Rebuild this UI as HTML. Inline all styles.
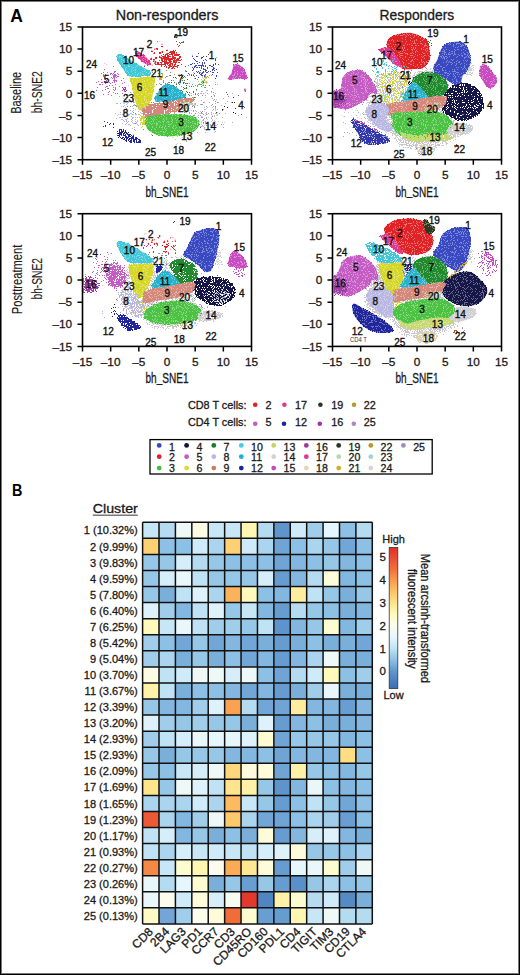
<!DOCTYPE html><html><head><meta charset="utf-8"><title>Figure</title>
<style>html,body{margin:0;padding:0;background:#fff;overflow:hidden}svg{display:block}text{font-family:"Liberation Sans",sans-serif}text.k{stroke:#1a1a1a;stroke-width:0.3px}text.k2{stroke:#1a1a1a;stroke-width:0.12px}</style></head><body>
<svg width="520" height="975" viewBox="0 0 520 975">
<rect x="0" y="0" width="520" height="975" fill="#fff"/>
<text x="10.2" y="21.5" font-size="17.5" font-weight="bold" fill="#000">A</text>
<text class="k" x="115.8" y="19.8" font-size="14" textLength="102.7" lengthAdjust="spacingAndGlyphs" fill="#1a1a1a">Non-responders</text>
<text class="k" x="379.6" y="19.9" font-size="14" textLength="74.6" lengthAdjust="spacingAndGlyphs" fill="#1a1a1a">Responders</text>
<defs><filter id="soft" x="0" y="0" width="100%" height="100%"><feGaussianBlur stdDeviation="0.45"/></filter><filter id="f0_1" x="-50%" y="-50%" width="200%" height="200%" color-interpolation-filters="sRGB"><feGaussianBlur in="SourceGraphic" stdDeviation="0.6" result="b"/><feTurbulence type="fractalNoise" baseFrequency="0.9" numOctaves="2" seed="1" result="t"/><feComponentTransfer in="t" result="u"><feFuncA type="table" tableValues="0.0 0.0 0.0001 0.0002 0.0004 0.0009 0.0018 0.0034 0.0062 0.011 0.0186 0.0304 0.0478 0.0724 0.1056 0.1488 0.2023 0.266 0.3385 0.4175 0.5 0.5825 0.6615 0.734 0.7977 0.8512 0.8944 0.9276 0.9522 0.9696 0.9814 0.989 0.9938 0.9966 0.9982 0.9991 0.9996 0.9998 0.9999 1.0 1.0"/></feComponentTransfer><feComposite in="b" in2="u" operator="arithmetic" k1="0" k2="1" k3="-1" k4="0" result="d"/><feComponentTransfer in="d" result="m"><feFuncA type="linear" slope="60" intercept="0"/></feComponentTransfer><feComposite in="b" in2="m" operator="in" result="o"/><feColorMatrix in="o" type="matrix" values="1 0 0 0 0  0 1 0 0 0  0 0 1 0 0  0 0 0 80 0"/></filter><filter id="f0_2" x="-50%" y="-50%" width="200%" height="200%" color-interpolation-filters="sRGB"><feGaussianBlur in="SourceGraphic" stdDeviation="0.6" result="b"/><feTurbulence type="fractalNoise" baseFrequency="0.9" numOctaves="2" seed="2" result="t"/><feComponentTransfer in="t" result="u"><feFuncA type="table" tableValues="0.0 0.0 0.0001 0.0002 0.0004 0.0009 0.0018 0.0034 0.0062 0.011 0.0186 0.0304 0.0478 0.0724 0.1056 0.1488 0.2023 0.266 0.3385 0.4175 0.5 0.5825 0.6615 0.734 0.7977 0.8512 0.8944 0.9276 0.9522 0.9696 0.9814 0.989 0.9938 0.9966 0.9982 0.9991 0.9996 0.9998 0.9999 1.0 1.0"/></feComponentTransfer><feComposite in="b" in2="u" operator="arithmetic" k1="0" k2="1" k3="-1" k4="0" result="d"/><feComponentTransfer in="d" result="m"><feFuncA type="linear" slope="60" intercept="0"/></feComponentTransfer><feComposite in="b" in2="m" operator="in" result="o"/><feColorMatrix in="o" type="matrix" values="1 0 0 0 0  0 1 0 0 0  0 0 1 0 0  0 0 0 80 0"/></filter><filter id="f0_3" x="-50%" y="-50%" width="200%" height="200%" color-interpolation-filters="sRGB"><feGaussianBlur in="SourceGraphic" stdDeviation="0.6" result="b"/><feTurbulence type="fractalNoise" baseFrequency="0.9" numOctaves="2" seed="3" result="t"/><feComponentTransfer in="t" result="u"><feFuncA type="table" tableValues="0.0 0.0 0.0001 0.0002 0.0004 0.0009 0.0018 0.0034 0.0062 0.011 0.0186 0.0304 0.0478 0.0724 0.1056 0.1488 0.2023 0.266 0.3385 0.4175 0.5 0.5825 0.6615 0.734 0.7977 0.8512 0.8944 0.9276 0.9522 0.9696 0.9814 0.989 0.9938 0.9966 0.9982 0.9991 0.9996 0.9998 0.9999 1.0 1.0"/></feComponentTransfer><feComposite in="b" in2="u" operator="arithmetic" k1="0" k2="1" k3="-1" k4="0" result="d"/><feComponentTransfer in="d" result="m"><feFuncA type="linear" slope="60" intercept="0"/></feComponentTransfer><feComposite in="b" in2="m" operator="in" result="o"/><feColorMatrix in="o" type="matrix" values="1 0 0 0 0  0 1 0 0 0  0 0 1 0 0  0 0 0 80 0"/></filter><filter id="f0_4" x="-50%" y="-50%" width="200%" height="200%" color-interpolation-filters="sRGB"><feGaussianBlur in="SourceGraphic" stdDeviation="0.6" result="b"/><feTurbulence type="fractalNoise" baseFrequency="0.9" numOctaves="2" seed="4" result="t"/><feComponentTransfer in="t" result="u"><feFuncA type="table" tableValues="0.0 0.0 0.0001 0.0002 0.0004 0.0009 0.0018 0.0034 0.0062 0.011 0.0186 0.0304 0.0478 0.0724 0.1056 0.1488 0.2023 0.266 0.3385 0.4175 0.5 0.5825 0.6615 0.734 0.7977 0.8512 0.8944 0.9276 0.9522 0.9696 0.9814 0.989 0.9938 0.9966 0.9982 0.9991 0.9996 0.9998 0.9999 1.0 1.0"/></feComponentTransfer><feComposite in="b" in2="u" operator="arithmetic" k1="0" k2="1" k3="-1" k4="0" result="d"/><feComponentTransfer in="d" result="m"><feFuncA type="linear" slope="60" intercept="0"/></feComponentTransfer><feComposite in="b" in2="m" operator="in" result="o"/><feColorMatrix in="o" type="matrix" values="1 0 0 0 0  0 1 0 0 0  0 0 1 0 0  0 0 0 80 0"/></filter><filter id="f0_5" x="-50%" y="-50%" width="200%" height="200%" color-interpolation-filters="sRGB"><feGaussianBlur in="SourceGraphic" stdDeviation="0.6" result="b"/><feTurbulence type="fractalNoise" baseFrequency="0.9" numOctaves="2" seed="5" result="t"/><feComponentTransfer in="t" result="u"><feFuncA type="table" tableValues="0.0 0.0 0.0001 0.0002 0.0004 0.0009 0.0018 0.0034 0.0062 0.011 0.0186 0.0304 0.0478 0.0724 0.1056 0.1488 0.2023 0.266 0.3385 0.4175 0.5 0.5825 0.6615 0.734 0.7977 0.8512 0.8944 0.9276 0.9522 0.9696 0.9814 0.989 0.9938 0.9966 0.9982 0.9991 0.9996 0.9998 0.9999 1.0 1.0"/></feComponentTransfer><feComposite in="b" in2="u" operator="arithmetic" k1="0" k2="1" k3="-1" k4="0" result="d"/><feComponentTransfer in="d" result="m"><feFuncA type="linear" slope="60" intercept="0"/></feComponentTransfer><feComposite in="b" in2="m" operator="in" result="o"/><feColorMatrix in="o" type="matrix" values="1 0 0 0 0  0 1 0 0 0  0 0 1 0 0  0 0 0 80 0"/></filter><filter id="f0_6" x="-50%" y="-50%" width="200%" height="200%" color-interpolation-filters="sRGB"><feGaussianBlur in="SourceGraphic" stdDeviation="0.6" result="b"/><feTurbulence type="fractalNoise" baseFrequency="0.9" numOctaves="2" seed="6" result="t"/><feComponentTransfer in="t" result="u"><feFuncA type="table" tableValues="0.0 0.0 0.0001 0.0002 0.0004 0.0009 0.0018 0.0034 0.0062 0.011 0.0186 0.0304 0.0478 0.0724 0.1056 0.1488 0.2023 0.266 0.3385 0.4175 0.5 0.5825 0.6615 0.734 0.7977 0.8512 0.8944 0.9276 0.9522 0.9696 0.9814 0.989 0.9938 0.9966 0.9982 0.9991 0.9996 0.9998 0.9999 1.0 1.0"/></feComponentTransfer><feComposite in="b" in2="u" operator="arithmetic" k1="0" k2="1" k3="-1" k4="0" result="d"/><feComponentTransfer in="d" result="m"><feFuncA type="linear" slope="60" intercept="0"/></feComponentTransfer><feComposite in="b" in2="m" operator="in" result="o"/><feColorMatrix in="o" type="matrix" values="1 0 0 0 0  0 1 0 0 0  0 0 1 0 0  0 0 0 80 0"/></filter><filter id="f1_1" x="-50%" y="-50%" width="200%" height="200%" color-interpolation-filters="sRGB"><feGaussianBlur in="SourceGraphic" stdDeviation="1.5" result="b"/><feTurbulence type="fractalNoise" baseFrequency="0.9" numOctaves="2" seed="1" result="t"/><feComponentTransfer in="t" result="u"><feFuncA type="table" tableValues="0.0 0.0 0.0001 0.0002 0.0004 0.0009 0.0018 0.0034 0.0062 0.011 0.0186 0.0304 0.0478 0.0724 0.1056 0.1488 0.2023 0.266 0.3385 0.4175 0.5 0.5825 0.6615 0.734 0.7977 0.8512 0.8944 0.9276 0.9522 0.9696 0.9814 0.989 0.9938 0.9966 0.9982 0.9991 0.9996 0.9998 0.9999 1.0 1.0"/></feComponentTransfer><feComposite in="b" in2="u" operator="arithmetic" k1="0" k2="1" k3="-1" k4="0" result="d"/><feComponentTransfer in="d" result="m"><feFuncA type="linear" slope="60" intercept="0"/></feComponentTransfer><feComposite in="b" in2="m" operator="in" result="o"/><feColorMatrix in="o" type="matrix" values="1 0 0 0 0  0 1 0 0 0  0 0 1 0 0  0 0 0 80 0"/></filter><filter id="f1_2" x="-50%" y="-50%" width="200%" height="200%" color-interpolation-filters="sRGB"><feGaussianBlur in="SourceGraphic" stdDeviation="1.5" result="b"/><feTurbulence type="fractalNoise" baseFrequency="0.9" numOctaves="2" seed="2" result="t"/><feComponentTransfer in="t" result="u"><feFuncA type="table" tableValues="0.0 0.0 0.0001 0.0002 0.0004 0.0009 0.0018 0.0034 0.0062 0.011 0.0186 0.0304 0.0478 0.0724 0.1056 0.1488 0.2023 0.266 0.3385 0.4175 0.5 0.5825 0.6615 0.734 0.7977 0.8512 0.8944 0.9276 0.9522 0.9696 0.9814 0.989 0.9938 0.9966 0.9982 0.9991 0.9996 0.9998 0.9999 1.0 1.0"/></feComponentTransfer><feComposite in="b" in2="u" operator="arithmetic" k1="0" k2="1" k3="-1" k4="0" result="d"/><feComponentTransfer in="d" result="m"><feFuncA type="linear" slope="60" intercept="0"/></feComponentTransfer><feComposite in="b" in2="m" operator="in" result="o"/><feColorMatrix in="o" type="matrix" values="1 0 0 0 0  0 1 0 0 0  0 0 1 0 0  0 0 0 80 0"/></filter><filter id="f1_3" x="-50%" y="-50%" width="200%" height="200%" color-interpolation-filters="sRGB"><feGaussianBlur in="SourceGraphic" stdDeviation="1.5" result="b"/><feTurbulence type="fractalNoise" baseFrequency="0.9" numOctaves="2" seed="3" result="t"/><feComponentTransfer in="t" result="u"><feFuncA type="table" tableValues="0.0 0.0 0.0001 0.0002 0.0004 0.0009 0.0018 0.0034 0.0062 0.011 0.0186 0.0304 0.0478 0.0724 0.1056 0.1488 0.2023 0.266 0.3385 0.4175 0.5 0.5825 0.6615 0.734 0.7977 0.8512 0.8944 0.9276 0.9522 0.9696 0.9814 0.989 0.9938 0.9966 0.9982 0.9991 0.9996 0.9998 0.9999 1.0 1.0"/></feComponentTransfer><feComposite in="b" in2="u" operator="arithmetic" k1="0" k2="1" k3="-1" k4="0" result="d"/><feComponentTransfer in="d" result="m"><feFuncA type="linear" slope="60" intercept="0"/></feComponentTransfer><feComposite in="b" in2="m" operator="in" result="o"/><feColorMatrix in="o" type="matrix" values="1 0 0 0 0  0 1 0 0 0  0 0 1 0 0  0 0 0 80 0"/></filter><filter id="f1_4" x="-50%" y="-50%" width="200%" height="200%" color-interpolation-filters="sRGB"><feGaussianBlur in="SourceGraphic" stdDeviation="1.5" result="b"/><feTurbulence type="fractalNoise" baseFrequency="0.9" numOctaves="2" seed="4" result="t"/><feComponentTransfer in="t" result="u"><feFuncA type="table" tableValues="0.0 0.0 0.0001 0.0002 0.0004 0.0009 0.0018 0.0034 0.0062 0.011 0.0186 0.0304 0.0478 0.0724 0.1056 0.1488 0.2023 0.266 0.3385 0.4175 0.5 0.5825 0.6615 0.734 0.7977 0.8512 0.8944 0.9276 0.9522 0.9696 0.9814 0.989 0.9938 0.9966 0.9982 0.9991 0.9996 0.9998 0.9999 1.0 1.0"/></feComponentTransfer><feComposite in="b" in2="u" operator="arithmetic" k1="0" k2="1" k3="-1" k4="0" result="d"/><feComponentTransfer in="d" result="m"><feFuncA type="linear" slope="60" intercept="0"/></feComponentTransfer><feComposite in="b" in2="m" operator="in" result="o"/><feColorMatrix in="o" type="matrix" values="1 0 0 0 0  0 1 0 0 0  0 0 1 0 0  0 0 0 80 0"/></filter><filter id="f1_5" x="-50%" y="-50%" width="200%" height="200%" color-interpolation-filters="sRGB"><feGaussianBlur in="SourceGraphic" stdDeviation="1.5" result="b"/><feTurbulence type="fractalNoise" baseFrequency="0.9" numOctaves="2" seed="5" result="t"/><feComponentTransfer in="t" result="u"><feFuncA type="table" tableValues="0.0 0.0 0.0001 0.0002 0.0004 0.0009 0.0018 0.0034 0.0062 0.011 0.0186 0.0304 0.0478 0.0724 0.1056 0.1488 0.2023 0.266 0.3385 0.4175 0.5 0.5825 0.6615 0.734 0.7977 0.8512 0.8944 0.9276 0.9522 0.9696 0.9814 0.989 0.9938 0.9966 0.9982 0.9991 0.9996 0.9998 0.9999 1.0 1.0"/></feComponentTransfer><feComposite in="b" in2="u" operator="arithmetic" k1="0" k2="1" k3="-1" k4="0" result="d"/><feComponentTransfer in="d" result="m"><feFuncA type="linear" slope="60" intercept="0"/></feComponentTransfer><feComposite in="b" in2="m" operator="in" result="o"/><feColorMatrix in="o" type="matrix" values="1 0 0 0 0  0 1 0 0 0  0 0 1 0 0  0 0 0 80 0"/></filter><filter id="f1_6" x="-50%" y="-50%" width="200%" height="200%" color-interpolation-filters="sRGB"><feGaussianBlur in="SourceGraphic" stdDeviation="1.5" result="b"/><feTurbulence type="fractalNoise" baseFrequency="0.9" numOctaves="2" seed="6" result="t"/><feComponentTransfer in="t" result="u"><feFuncA type="table" tableValues="0.0 0.0 0.0001 0.0002 0.0004 0.0009 0.0018 0.0034 0.0062 0.011 0.0186 0.0304 0.0478 0.0724 0.1056 0.1488 0.2023 0.266 0.3385 0.4175 0.5 0.5825 0.6615 0.734 0.7977 0.8512 0.8944 0.9276 0.9522 0.9696 0.9814 0.989 0.9938 0.9966 0.9982 0.9991 0.9996 0.9998 0.9999 1.0 1.0"/></feComponentTransfer><feComposite in="b" in2="u" operator="arithmetic" k1="0" k2="1" k3="-1" k4="0" result="d"/><feComponentTransfer in="d" result="m"><feFuncA type="linear" slope="60" intercept="0"/></feComponentTransfer><feComposite in="b" in2="m" operator="in" result="o"/><feColorMatrix in="o" type="matrix" values="1 0 0 0 0  0 1 0 0 0  0 0 1 0 0  0 0 0 80 0"/></filter><filter id="f2_1" x="-50%" y="-50%" width="200%" height="200%" color-interpolation-filters="sRGB"><feGaussianBlur in="SourceGraphic" stdDeviation="3" result="b"/><feTurbulence type="fractalNoise" baseFrequency="0.9" numOctaves="2" seed="1" result="t"/><feComponentTransfer in="t" result="u"><feFuncA type="table" tableValues="0.0 0.0 0.0001 0.0002 0.0004 0.0009 0.0018 0.0034 0.0062 0.011 0.0186 0.0304 0.0478 0.0724 0.1056 0.1488 0.2023 0.266 0.3385 0.4175 0.5 0.5825 0.6615 0.734 0.7977 0.8512 0.8944 0.9276 0.9522 0.9696 0.9814 0.989 0.9938 0.9966 0.9982 0.9991 0.9996 0.9998 0.9999 1.0 1.0"/></feComponentTransfer><feComposite in="b" in2="u" operator="arithmetic" k1="0" k2="1" k3="-1" k4="0" result="d"/><feComponentTransfer in="d" result="m"><feFuncA type="linear" slope="60" intercept="0"/></feComponentTransfer><feComposite in="b" in2="m" operator="in" result="o"/><feColorMatrix in="o" type="matrix" values="1 0 0 0 0  0 1 0 0 0  0 0 1 0 0  0 0 0 80 0"/></filter><filter id="f2_2" x="-50%" y="-50%" width="200%" height="200%" color-interpolation-filters="sRGB"><feGaussianBlur in="SourceGraphic" stdDeviation="3" result="b"/><feTurbulence type="fractalNoise" baseFrequency="0.9" numOctaves="2" seed="2" result="t"/><feComponentTransfer in="t" result="u"><feFuncA type="table" tableValues="0.0 0.0 0.0001 0.0002 0.0004 0.0009 0.0018 0.0034 0.0062 0.011 0.0186 0.0304 0.0478 0.0724 0.1056 0.1488 0.2023 0.266 0.3385 0.4175 0.5 0.5825 0.6615 0.734 0.7977 0.8512 0.8944 0.9276 0.9522 0.9696 0.9814 0.989 0.9938 0.9966 0.9982 0.9991 0.9996 0.9998 0.9999 1.0 1.0"/></feComponentTransfer><feComposite in="b" in2="u" operator="arithmetic" k1="0" k2="1" k3="-1" k4="0" result="d"/><feComponentTransfer in="d" result="m"><feFuncA type="linear" slope="60" intercept="0"/></feComponentTransfer><feComposite in="b" in2="m" operator="in" result="o"/><feColorMatrix in="o" type="matrix" values="1 0 0 0 0  0 1 0 0 0  0 0 1 0 0  0 0 0 80 0"/></filter><filter id="f2_3" x="-50%" y="-50%" width="200%" height="200%" color-interpolation-filters="sRGB"><feGaussianBlur in="SourceGraphic" stdDeviation="3" result="b"/><feTurbulence type="fractalNoise" baseFrequency="0.9" numOctaves="2" seed="3" result="t"/><feComponentTransfer in="t" result="u"><feFuncA type="table" tableValues="0.0 0.0 0.0001 0.0002 0.0004 0.0009 0.0018 0.0034 0.0062 0.011 0.0186 0.0304 0.0478 0.0724 0.1056 0.1488 0.2023 0.266 0.3385 0.4175 0.5 0.5825 0.6615 0.734 0.7977 0.8512 0.8944 0.9276 0.9522 0.9696 0.9814 0.989 0.9938 0.9966 0.9982 0.9991 0.9996 0.9998 0.9999 1.0 1.0"/></feComponentTransfer><feComposite in="b" in2="u" operator="arithmetic" k1="0" k2="1" k3="-1" k4="0" result="d"/><feComponentTransfer in="d" result="m"><feFuncA type="linear" slope="60" intercept="0"/></feComponentTransfer><feComposite in="b" in2="m" operator="in" result="o"/><feColorMatrix in="o" type="matrix" values="1 0 0 0 0  0 1 0 0 0  0 0 1 0 0  0 0 0 80 0"/></filter><filter id="f2_4" x="-50%" y="-50%" width="200%" height="200%" color-interpolation-filters="sRGB"><feGaussianBlur in="SourceGraphic" stdDeviation="3" result="b"/><feTurbulence type="fractalNoise" baseFrequency="0.9" numOctaves="2" seed="4" result="t"/><feComponentTransfer in="t" result="u"><feFuncA type="table" tableValues="0.0 0.0 0.0001 0.0002 0.0004 0.0009 0.0018 0.0034 0.0062 0.011 0.0186 0.0304 0.0478 0.0724 0.1056 0.1488 0.2023 0.266 0.3385 0.4175 0.5 0.5825 0.6615 0.734 0.7977 0.8512 0.8944 0.9276 0.9522 0.9696 0.9814 0.989 0.9938 0.9966 0.9982 0.9991 0.9996 0.9998 0.9999 1.0 1.0"/></feComponentTransfer><feComposite in="b" in2="u" operator="arithmetic" k1="0" k2="1" k3="-1" k4="0" result="d"/><feComponentTransfer in="d" result="m"><feFuncA type="linear" slope="60" intercept="0"/></feComponentTransfer><feComposite in="b" in2="m" operator="in" result="o"/><feColorMatrix in="o" type="matrix" values="1 0 0 0 0  0 1 0 0 0  0 0 1 0 0  0 0 0 80 0"/></filter><filter id="f2_5" x="-50%" y="-50%" width="200%" height="200%" color-interpolation-filters="sRGB"><feGaussianBlur in="SourceGraphic" stdDeviation="3" result="b"/><feTurbulence type="fractalNoise" baseFrequency="0.9" numOctaves="2" seed="5" result="t"/><feComponentTransfer in="t" result="u"><feFuncA type="table" tableValues="0.0 0.0 0.0001 0.0002 0.0004 0.0009 0.0018 0.0034 0.0062 0.011 0.0186 0.0304 0.0478 0.0724 0.1056 0.1488 0.2023 0.266 0.3385 0.4175 0.5 0.5825 0.6615 0.734 0.7977 0.8512 0.8944 0.9276 0.9522 0.9696 0.9814 0.989 0.9938 0.9966 0.9982 0.9991 0.9996 0.9998 0.9999 1.0 1.0"/></feComponentTransfer><feComposite in="b" in2="u" operator="arithmetic" k1="0" k2="1" k3="-1" k4="0" result="d"/><feComponentTransfer in="d" result="m"><feFuncA type="linear" slope="60" intercept="0"/></feComponentTransfer><feComposite in="b" in2="m" operator="in" result="o"/><feColorMatrix in="o" type="matrix" values="1 0 0 0 0  0 1 0 0 0  0 0 1 0 0  0 0 0 80 0"/></filter><filter id="f2_6" x="-50%" y="-50%" width="200%" height="200%" color-interpolation-filters="sRGB"><feGaussianBlur in="SourceGraphic" stdDeviation="3" result="b"/><feTurbulence type="fractalNoise" baseFrequency="0.9" numOctaves="2" seed="6" result="t"/><feComponentTransfer in="t" result="u"><feFuncA type="table" tableValues="0.0 0.0 0.0001 0.0002 0.0004 0.0009 0.0018 0.0034 0.0062 0.011 0.0186 0.0304 0.0478 0.0724 0.1056 0.1488 0.2023 0.266 0.3385 0.4175 0.5 0.5825 0.6615 0.734 0.7977 0.8512 0.8944 0.9276 0.9522 0.9696 0.9814 0.989 0.9938 0.9966 0.9982 0.9991 0.9996 0.9998 0.9999 1.0 1.0"/></feComponentTransfer><feComposite in="b" in2="u" operator="arithmetic" k1="0" k2="1" k3="-1" k4="0" result="d"/><feComponentTransfer in="d" result="m"><feFuncA type="linear" slope="60" intercept="0"/></feComponentTransfer><feComposite in="b" in2="m" operator="in" result="o"/><feColorMatrix in="o" type="matrix" values="1 0 0 0 0  0 1 0 0 0  0 0 1 0 0  0 0 0 80 0"/></filter><filter id="f3_1" x="-50%" y="-50%" width="200%" height="200%" color-interpolation-filters="sRGB"><feGaussianBlur in="SourceGraphic" stdDeviation="6" result="b"/><feTurbulence type="fractalNoise" baseFrequency="0.9" numOctaves="2" seed="1" result="t"/><feComponentTransfer in="t" result="u"><feFuncA type="table" tableValues="0.0 0.0 0.0001 0.0002 0.0004 0.0009 0.0018 0.0034 0.0062 0.011 0.0186 0.0304 0.0478 0.0724 0.1056 0.1488 0.2023 0.266 0.3385 0.4175 0.5 0.5825 0.6615 0.734 0.7977 0.8512 0.8944 0.9276 0.9522 0.9696 0.9814 0.989 0.9938 0.9966 0.9982 0.9991 0.9996 0.9998 0.9999 1.0 1.0"/></feComponentTransfer><feComposite in="b" in2="u" operator="arithmetic" k1="0" k2="1" k3="-1" k4="0" result="d"/><feComponentTransfer in="d" result="m"><feFuncA type="linear" slope="60" intercept="0"/></feComponentTransfer><feComposite in="b" in2="m" operator="in" result="o"/><feColorMatrix in="o" type="matrix" values="1 0 0 0 0  0 1 0 0 0  0 0 1 0 0  0 0 0 80 0"/></filter><filter id="f3_2" x="-50%" y="-50%" width="200%" height="200%" color-interpolation-filters="sRGB"><feGaussianBlur in="SourceGraphic" stdDeviation="6" result="b"/><feTurbulence type="fractalNoise" baseFrequency="0.9" numOctaves="2" seed="2" result="t"/><feComponentTransfer in="t" result="u"><feFuncA type="table" tableValues="0.0 0.0 0.0001 0.0002 0.0004 0.0009 0.0018 0.0034 0.0062 0.011 0.0186 0.0304 0.0478 0.0724 0.1056 0.1488 0.2023 0.266 0.3385 0.4175 0.5 0.5825 0.6615 0.734 0.7977 0.8512 0.8944 0.9276 0.9522 0.9696 0.9814 0.989 0.9938 0.9966 0.9982 0.9991 0.9996 0.9998 0.9999 1.0 1.0"/></feComponentTransfer><feComposite in="b" in2="u" operator="arithmetic" k1="0" k2="1" k3="-1" k4="0" result="d"/><feComponentTransfer in="d" result="m"><feFuncA type="linear" slope="60" intercept="0"/></feComponentTransfer><feComposite in="b" in2="m" operator="in" result="o"/><feColorMatrix in="o" type="matrix" values="1 0 0 0 0  0 1 0 0 0  0 0 1 0 0  0 0 0 80 0"/></filter><filter id="f3_3" x="-50%" y="-50%" width="200%" height="200%" color-interpolation-filters="sRGB"><feGaussianBlur in="SourceGraphic" stdDeviation="6" result="b"/><feTurbulence type="fractalNoise" baseFrequency="0.9" numOctaves="2" seed="3" result="t"/><feComponentTransfer in="t" result="u"><feFuncA type="table" tableValues="0.0 0.0 0.0001 0.0002 0.0004 0.0009 0.0018 0.0034 0.0062 0.011 0.0186 0.0304 0.0478 0.0724 0.1056 0.1488 0.2023 0.266 0.3385 0.4175 0.5 0.5825 0.6615 0.734 0.7977 0.8512 0.8944 0.9276 0.9522 0.9696 0.9814 0.989 0.9938 0.9966 0.9982 0.9991 0.9996 0.9998 0.9999 1.0 1.0"/></feComponentTransfer><feComposite in="b" in2="u" operator="arithmetic" k1="0" k2="1" k3="-1" k4="0" result="d"/><feComponentTransfer in="d" result="m"><feFuncA type="linear" slope="60" intercept="0"/></feComponentTransfer><feComposite in="b" in2="m" operator="in" result="o"/><feColorMatrix in="o" type="matrix" values="1 0 0 0 0  0 1 0 0 0  0 0 1 0 0  0 0 0 80 0"/></filter><filter id="f3_4" x="-50%" y="-50%" width="200%" height="200%" color-interpolation-filters="sRGB"><feGaussianBlur in="SourceGraphic" stdDeviation="6" result="b"/><feTurbulence type="fractalNoise" baseFrequency="0.9" numOctaves="2" seed="4" result="t"/><feComponentTransfer in="t" result="u"><feFuncA type="table" tableValues="0.0 0.0 0.0001 0.0002 0.0004 0.0009 0.0018 0.0034 0.0062 0.011 0.0186 0.0304 0.0478 0.0724 0.1056 0.1488 0.2023 0.266 0.3385 0.4175 0.5 0.5825 0.6615 0.734 0.7977 0.8512 0.8944 0.9276 0.9522 0.9696 0.9814 0.989 0.9938 0.9966 0.9982 0.9991 0.9996 0.9998 0.9999 1.0 1.0"/></feComponentTransfer><feComposite in="b" in2="u" operator="arithmetic" k1="0" k2="1" k3="-1" k4="0" result="d"/><feComponentTransfer in="d" result="m"><feFuncA type="linear" slope="60" intercept="0"/></feComponentTransfer><feComposite in="b" in2="m" operator="in" result="o"/><feColorMatrix in="o" type="matrix" values="1 0 0 0 0  0 1 0 0 0  0 0 1 0 0  0 0 0 80 0"/></filter><filter id="f3_5" x="-50%" y="-50%" width="200%" height="200%" color-interpolation-filters="sRGB"><feGaussianBlur in="SourceGraphic" stdDeviation="6" result="b"/><feTurbulence type="fractalNoise" baseFrequency="0.9" numOctaves="2" seed="5" result="t"/><feComponentTransfer in="t" result="u"><feFuncA type="table" tableValues="0.0 0.0 0.0001 0.0002 0.0004 0.0009 0.0018 0.0034 0.0062 0.011 0.0186 0.0304 0.0478 0.0724 0.1056 0.1488 0.2023 0.266 0.3385 0.4175 0.5 0.5825 0.6615 0.734 0.7977 0.8512 0.8944 0.9276 0.9522 0.9696 0.9814 0.989 0.9938 0.9966 0.9982 0.9991 0.9996 0.9998 0.9999 1.0 1.0"/></feComponentTransfer><feComposite in="b" in2="u" operator="arithmetic" k1="0" k2="1" k3="-1" k4="0" result="d"/><feComponentTransfer in="d" result="m"><feFuncA type="linear" slope="60" intercept="0"/></feComponentTransfer><feComposite in="b" in2="m" operator="in" result="o"/><feColorMatrix in="o" type="matrix" values="1 0 0 0 0  0 1 0 0 0  0 0 1 0 0  0 0 0 80 0"/></filter><filter id="f3_6" x="-50%" y="-50%" width="200%" height="200%" color-interpolation-filters="sRGB"><feGaussianBlur in="SourceGraphic" stdDeviation="6" result="b"/><feTurbulence type="fractalNoise" baseFrequency="0.9" numOctaves="2" seed="6" result="t"/><feComponentTransfer in="t" result="u"><feFuncA type="table" tableValues="0.0 0.0 0.0001 0.0002 0.0004 0.0009 0.0018 0.0034 0.0062 0.011 0.0186 0.0304 0.0478 0.0724 0.1056 0.1488 0.2023 0.266 0.3385 0.4175 0.5 0.5825 0.6615 0.734 0.7977 0.8512 0.8944 0.9276 0.9522 0.9696 0.9814 0.989 0.9938 0.9966 0.9982 0.9991 0.9996 0.9998 0.9999 1.0 1.0"/></feComponentTransfer><feComposite in="b" in2="u" operator="arithmetic" k1="0" k2="1" k3="-1" k4="0" result="d"/><feComponentTransfer in="d" result="m"><feFuncA type="linear" slope="60" intercept="0"/></feComponentTransfer><feComposite in="b" in2="m" operator="in" result="o"/><feColorMatrix in="o" type="matrix" values="1 0 0 0 0  0 1 0 0 0  0 0 1 0 0  0 0 0 80 0"/></filter></defs>
<defs><clipPath id="cp0"><rect x="83.3" y="27.8" width="167.4" height="131.1"/></clipPath><clipPath id="cp1"><rect x="333.3" y="27.8" width="167.4" height="131.1"/></clipPath><clipPath id="cp2"><rect x="83.3" y="214.5" width="167.4" height="131.1"/></clipPath><clipPath id="cp3"><rect x="333.3" y="214.5" width="167.4" height="131.1"/></clipPath></defs>
<g clip-path="url(#cp0)"><g filter="url(#soft)"><ellipse cx="170.5" cy="99.0" rx="48" ry="36" fill="#8a8a9a" fill-opacity="0.05" filter="url(#f3_2)"/><ellipse cx="204.5" cy="109.0" rx="26" ry="20" fill="#b0b0c8" fill-opacity="0.07" filter="url(#f3_3)"/><ellipse cx="230.5" cy="109.0" rx="14" ry="18" fill="#151548" fill-opacity="0.03" filter="url(#f3_4)"/><ellipse cx="160.5" cy="57.0" rx="15" ry="9" fill="#e02426" fill-opacity="0.12" transform="rotate(20 160.5 57.0)" filter="url(#f3_5)"/><path d="M162.5,55.0C164.8,53.2 169.7,51.3 172.5,51.0C175.3,50.7 178.2,51.3 179.5,53.0C180.8,54.7 181.2,58.7 180.5,61.0C179.8,63.3 178.2,66.0 175.5,67.0C172.8,68.0 167.3,67.8 164.5,67.0C161.7,66.2 158.8,64.0 158.5,62.0C158.2,60.0 160.2,56.8 162.5,55.0Z" fill="#e02426" fill-opacity="0.6" filter="url(#f1_6)"/><path d="M134.5,51.2L137.3,50.7L144.6,55.6L150.3,61.3L150.8,64.9L147.9,65.4L141.3,61.3L135.6,55.6Z" fill="#eb7eb7"/><path d="M134.5,51.2L137.3,50.7L144.6,55.6L150.3,61.3L150.8,64.9L147.9,65.4L141.3,61.3L135.6,55.6Z" fill="#e03890" fill-opacity="0.8" filter="url(#f0_1)"/><path d="M116.5,56.4L117.6,54.5L120.4,54.0L125.0,56.4L131.5,60.5L138.9,64.9L146.2,68.7L150.3,71.1L151.1,74.4L149.5,76.0L144.6,76.0L131.5,76.9L128.3,76.0L124.2,71.1L120.1,64.6L117.2,59.7Z" fill="#83dbe6"/><path d="M116.5,56.4L117.6,54.5L120.4,54.0L125.0,56.4L131.5,60.5L138.9,64.9L146.2,68.7L150.3,71.1L151.1,74.4L149.5,76.0L144.6,76.0L131.5,76.9L128.3,76.0L124.2,71.1L120.1,64.6L117.2,59.7Z" fill="#40c8d8" fill-opacity="0.8" filter="url(#f0_2)"/><ellipse cx="176.0" cy="36.0" rx="2" ry="2.2" fill="#787e6e"/><ellipse cx="176.0" cy="36.0" rx="2" ry="2.2" fill="#303820" fill-opacity="0.8" filter="url(#f0_3)"/><ellipse cx="179.5" cy="42.0" rx="3" ry="5" fill="#7a6048" fill-opacity="0.2" filter="url(#f1_4)"/><ellipse cx="203.5" cy="68.0" rx="10" ry="8" fill="#3a48c2" fill-opacity="0.42" filter="url(#f3_5)"/><ellipse cx="202.5" cy="69.0" rx="15" ry="10" fill="#3a48c2" fill-opacity="0.1" filter="url(#f3_6)"/><ellipse cx="202.5" cy="84.0" rx="3" ry="3" fill="#4cc244" fill-opacity="0.5" filter="url(#f1_1)"/><ellipse cx="207.5" cy="79.0" rx="1.5" ry="4" fill="#d8a828" fill-opacity="0.3" transform="rotate(30 207.5 79.0)" filter="url(#f1_2)"/><path d="M227.2,79.3L231.2,73.6L233.7,64.6L237.8,63.8L242.7,67.0L246.0,72.8L247.9,78.5L244.3,79.3L237.8,78.5L231.2,80.1Z" fill="#db8bd6"/><path d="M227.2,79.3L231.2,73.6L233.7,64.6L237.8,63.8L242.7,67.0L246.0,72.8L247.9,78.5L244.3,79.3L237.8,78.5L231.2,80.1Z" fill="#c84cc0" fill-opacity="0.8" filter="url(#f0_3)"/><ellipse cx="245.0" cy="90.0" rx="1.2" ry="1.8" fill="#db8bd6"/><ellipse cx="245.0" cy="90.0" rx="1.2" ry="1.8" fill="#c84cc0" fill-opacity="0.8" filter="url(#f0_4)"/><ellipse cx="109.5" cy="82.0" rx="13" ry="10" fill="#c45cc4" fill-opacity="0.22" filter="url(#f3_5)"/><ellipse cx="114.5" cy="76.0" rx="3.5" ry="4" fill="#c45cc4" fill-opacity="0.5" filter="url(#f1_6)"/><ellipse cx="124.5" cy="89.0" rx="2" ry="2.5" fill="#9e3ea6" fill-opacity="0.7" filter="url(#f0_1)"/><path d="M129.1,78.0L141.3,77.2L152.0,76.3L155.2,78.8L154.0,89.0L152.5,97.0L147.9,107.0L142.5,111.0L138.5,110.0L136.0,104.0L133.0,92.0L131.0,83.0Z" fill="#e4e472"/><path d="M129.1,78.0L141.3,77.2L152.0,76.3L155.2,78.8L154.0,89.0L152.5,97.0L147.9,107.0L142.5,111.0L138.5,110.0L136.0,104.0L133.0,92.0L131.0,83.0Z" fill="#d6d626" fill-opacity="0.8" filter="url(#f0_2)"/><ellipse cx="144.5" cy="120.0" rx="5" ry="6.5" fill="#d6d626" fill-opacity="0.75" filter="url(#f1_3)"/><path d="M159.5,78.0C160.0,76.8 161.7,74.5 162.5,74.0C163.3,73.5 164.4,74.0 164.2,75.0C164.0,76.0 162.3,79.0 161.5,80.0C160.7,81.0 159.8,81.3 159.5,81.0C159.2,80.7 159.0,79.2 159.5,78.0Z" fill="#d8a828" fill-opacity="0.8" filter="url(#f0_4)"/><ellipse cx="182.5" cy="87.0" rx="12" ry="9" fill="#248a2e" fill-opacity="0.22" filter="url(#f3_5)"/><path d="M154.0,98.0L158.5,91.0L165.5,84.0L170.5,84.5L177.5,88.0L186.5,96.0L182.5,99.0L170.5,101.0L160.5,102.0L155.5,102.0Z" fill="#73cdde"/><path d="M154.0,98.0L158.5,91.0L165.5,84.0L170.5,84.5L177.5,88.0L186.5,96.0L182.5,99.0L170.5,101.0L160.5,102.0L155.5,102.0Z" fill="#28b2cc" fill-opacity="0.8" filter="url(#f0_6)"/><path d="M141.3,109.0L149.5,104.1L161.0,102.5L172.4,100.9L182.2,98.4L192.0,97.6L194.5,100.0L188.5,106.5L177.3,112.0L165.9,114.8L154.4,116.8L144.6,117.5Z" fill="#d4887a" fill-opacity="0.88" filter="url(#f0_1)"/><ellipse cx="185.5" cy="106.0" rx="8" ry="3.5" fill="#b8d8b0" fill-opacity="0.3" transform="rotate(-15 185.5 106.0)" filter="url(#f2_2)"/><ellipse cx="130.5" cy="117.0" rx="10" ry="10" fill="#b8b8e2" fill-opacity="0.35" filter="url(#f3_3)"/><ellipse cx="128.5" cy="101.0" rx="4" ry="3" fill="#a8d4dc" fill-opacity="0.3" filter="url(#f2_4)"/><path d="M146.5,118.0C148.0,116.4 150.5,116.3 154.5,115.6C158.5,114.9 164.5,114.0 170.5,114.0C176.5,114.0 185.8,114.5 190.5,115.6C195.2,116.7 197.2,118.6 198.5,120.5C199.8,122.4 199.8,124.9 198.5,127.0C197.2,129.1 194.0,131.5 190.5,133.0C187.0,134.5 182.2,135.5 177.5,136.0C172.8,136.5 167.0,136.7 162.5,136.0C158.0,135.3 153.3,133.8 150.5,132.0C147.7,130.2 146.2,127.3 145.5,125.0C144.8,122.7 145.0,119.6 146.5,118.0Z" fill="#8bd785"/><path d="M146.5,118.0C148.0,116.4 150.5,116.3 154.5,115.6C158.5,114.9 164.5,114.0 170.5,114.0C176.5,114.0 185.8,114.5 190.5,115.6C195.2,116.7 197.2,118.6 198.5,120.5C199.8,122.4 199.8,124.9 198.5,127.0C197.2,129.1 194.0,131.5 190.5,133.0C187.0,134.5 182.2,135.5 177.5,136.0C172.8,136.5 167.0,136.7 162.5,136.0C158.0,135.3 153.3,133.8 150.5,132.0C147.7,130.2 146.2,127.3 145.5,125.0C144.8,122.7 145.0,119.6 146.5,118.0Z" fill="#4cc244" fill-opacity="0.8" filter="url(#f0_5)"/><ellipse cx="182.5" cy="136.0" rx="12" ry="3" fill="#c8d870" fill-opacity="0.25" filter="url(#f2_6)"/><ellipse cx="207.5" cy="119.0" rx="12" ry="10" fill="#cfcfd4" fill-opacity="0.22" filter="url(#f3_1)"/><path d="M117.6,130.6C118.4,129.5 119.4,128.4 121.7,129.0C124.0,129.6 128.6,132.3 131.5,133.9C134.4,135.5 137.3,137.6 138.9,138.8C140.5,140.0 141.4,140.5 141.3,141.2C141.2,141.9 140.3,142.8 138.1,142.9C135.9,143.0 131.3,142.7 128.3,142.0C125.3,141.3 122.0,139.9 120.1,138.8C118.2,137.7 117.2,136.9 116.8,135.5C116.4,134.1 116.8,131.7 117.6,130.6Z" fill="#20289c" fill-opacity="0.62" filter="url(#f0_2)"/><ellipse cx="109.5" cy="124.0" rx="4" ry="3" fill="#20289c" fill-opacity="0.25" filter="url(#f2_3)"/><ellipse cx="177.5" cy="146.0" rx="3" ry="2" fill="#dcd4b0" fill-opacity="0.3" filter="url(#f1_4)"/><ellipse cx="203.5" cy="81.0" rx="5" ry="3" fill="#b8d8b0" fill-opacity="0.4" filter="url(#f1_5)"/><ellipse cx="209.5" cy="77.0" rx="2" ry="3" fill="#d8a828" fill-opacity="0.4" filter="url(#f1_6)"/></g></g>
<text x="182.5" y="35.7" font-size="10" text-anchor="middle" fill="#111" stroke="#111" stroke-width="0.35">19</text>
<text x="149.5" y="47.7" font-size="10" text-anchor="middle" fill="#111" stroke="#111" stroke-width="0.35">2</text>
<text x="138.5" y="55.7" font-size="10" text-anchor="middle" fill="#111" stroke="#111" stroke-width="0.35">17</text>
<text x="128.5" y="63.7" font-size="10" text-anchor="middle" fill="#111" stroke="#111" stroke-width="0.35">10</text>
<text x="211.5" y="58.7" font-size="10" text-anchor="middle" fill="#111" stroke="#111" stroke-width="0.35">1</text>
<text x="238.1" y="61.7" font-size="10" text-anchor="middle" fill="#111" stroke="#111" stroke-width="0.35">15</text>
<text x="91.5" y="67.7" font-size="10" text-anchor="middle" fill="#111" stroke="#111" stroke-width="0.35">24</text>
<text x="156.5" y="76.7" font-size="10" text-anchor="middle" fill="#111" stroke="#111" stroke-width="0.35">21</text>
<text x="180.5" y="82.7" font-size="10" text-anchor="middle" fill="#111" stroke="#111" stroke-width="0.35">7</text>
<text x="106.5" y="82.7" font-size="10" text-anchor="middle" fill="#111" stroke="#111" stroke-width="0.35">5</text>
<text x="139.5" y="90.7" font-size="10" text-anchor="middle" fill="#111" stroke="#111" stroke-width="0.35">6</text>
<text x="163.5" y="95.7" font-size="10" text-anchor="middle" fill="#111" stroke="#111" stroke-width="0.35">11</text>
<text x="89.5" y="98.7" font-size="10" text-anchor="middle" fill="#111" stroke="#111" stroke-width="0.35">16</text>
<text x="128.5" y="101.7" font-size="10" text-anchor="middle" fill="#111" stroke="#111" stroke-width="0.35">23</text>
<text x="165.5" y="107.7" font-size="10" text-anchor="middle" fill="#111" stroke="#111" stroke-width="0.35">9</text>
<text x="183.5" y="111.7" font-size="10" text-anchor="middle" fill="#111" stroke="#111" stroke-width="0.35">20</text>
<text x="241.1" y="108.7" font-size="10" text-anchor="middle" fill="#111" stroke="#111" stroke-width="0.35">4</text>
<text x="125.5" y="116.7" font-size="10" text-anchor="middle" fill="#111" stroke="#111" stroke-width="0.35">8</text>
<text x="181.0" y="125.7" font-size="10" text-anchor="middle" fill="#111" stroke="#111" stroke-width="0.35">3</text>
<text x="210.5" y="130.2" font-size="10" text-anchor="middle" fill="#111" stroke="#111" stroke-width="0.35">14</text>
<text x="186.8" y="140.0" font-size="10" text-anchor="middle" fill="#111" stroke="#111" stroke-width="0.35">13</text>
<text x="107.5" y="145.7" font-size="10" text-anchor="middle" fill="#111" stroke="#111" stroke-width="0.35">12</text>
<text x="210.3" y="151.1" font-size="10" text-anchor="middle" fill="#111" stroke="#111" stroke-width="0.35">22</text>
<text x="178.5" y="153.7" font-size="10" text-anchor="middle" fill="#111" stroke="#111" stroke-width="0.35">18</text>
<text x="150.5" y="156.4" font-size="10" text-anchor="middle" fill="#111" stroke="#111" stroke-width="0.35">25</text>
<g clip-path="url(#cp1)"><g filter="url(#soft)"><ellipse cx="417.5" cy="99.0" rx="55" ry="42" fill="#8a8a9a" fill-opacity="0.05" filter="url(#f3_1)"/><path d="M366.5,107.0C367.8,99.3 371.8,83.0 376.5,77.0C381.2,71.0 388.5,71.7 394.5,71.0C400.5,70.3 406.8,73.3 412.5,73.0C418.2,72.7 423.2,68.3 428.5,69.0C433.8,69.7 441.2,72.7 444.5,77.0C447.8,81.3 448.5,89.0 448.5,95.0C448.5,101.0 443.2,108.7 444.5,113.0C445.8,117.3 454.2,117.3 456.5,121.0C458.8,124.7 461.8,130.7 458.5,135.0C455.2,139.3 445.5,145.0 436.5,147.0C427.5,149.0 412.2,149.3 404.5,147.0C396.8,144.7 396.5,137.0 390.5,133.0C384.5,129.0 372.5,127.3 368.5,123.0C364.5,118.7 365.2,114.7 366.5,107.0Z" fill="#cbc6d2" fill-opacity="0.55" filter="url(#f1_2)"/><ellipse cx="352.5" cy="107.0" rx="12" ry="14" fill="#d4d4d4" fill-opacity="0.08" filter="url(#f3_3)"/><ellipse cx="362.5" cy="127.0" rx="20" ry="12" fill="#b0b0c8" fill-opacity="0.08" filter="url(#f3_4)"/><path d="M466.0,61.3C466.8,59.5 470.2,61.7 471.5,63.0C472.8,64.3 473.5,67.0 473.5,69.0C473.5,71.0 472.7,74.2 471.5,75.0C470.3,75.8 467.4,76.3 466.5,74.0C465.6,71.7 465.2,63.1 466.0,61.3Z" fill="#cfcfd4" fill-opacity="0.6" filter="url(#f1_5)"/><path d="M387.6,40.1C388.6,38.3 390.3,37.1 392.5,36.0C394.7,34.9 397.7,34.0 400.7,33.5C403.7,33.0 407.5,32.5 410.5,32.7C413.5,33.0 416.3,34.1 418.5,35.0C420.7,35.9 422.1,37.1 423.5,38.0C424.9,38.9 425.8,38.4 426.8,40.1C427.8,41.8 428.8,45.2 429.3,48.2C429.9,51.2 430.5,55.3 430.1,58.0C429.7,60.7 428.2,62.8 426.8,64.6C425.4,66.4 423.6,68.0 421.9,68.7C420.2,69.4 418.9,68.9 416.5,69.0C414.1,69.1 410.2,69.7 407.7,69.5C405.1,69.3 403.2,69.0 401.2,67.9C399.2,66.8 397.6,64.9 395.7,63.0C393.8,61.1 391.5,59.1 390.0,56.4C388.5,53.7 387.2,49.3 386.8,46.6C386.4,43.9 386.7,41.9 387.6,40.1Z" fill="#eb7172"/><path d="M387.6,40.1C388.6,38.3 390.3,37.1 392.5,36.0C394.7,34.9 397.7,34.0 400.7,33.5C403.7,33.0 407.5,32.5 410.5,32.7C413.5,33.0 416.3,34.1 418.5,35.0C420.7,35.9 422.1,37.1 423.5,38.0C424.9,38.9 425.8,38.4 426.8,40.1C427.8,41.8 428.8,45.2 429.3,48.2C429.9,51.2 430.5,55.3 430.1,58.0C429.7,60.7 428.2,62.8 426.8,64.6C425.4,66.4 423.6,68.0 421.9,68.7C420.2,69.4 418.9,68.9 416.5,69.0C414.1,69.1 410.2,69.7 407.7,69.5C405.1,69.3 403.2,69.0 401.2,67.9C399.2,66.8 397.6,64.9 395.7,63.0C393.8,61.1 391.5,59.1 390.0,56.4C388.5,53.7 387.2,49.3 386.8,46.6C386.4,43.9 386.7,41.9 387.6,40.1Z" fill="#e02426" fill-opacity="0.8" filter="url(#f0_6)"/><path d="M378.0,49.8L384.5,47.0L389.5,48.0L394.5,54.0L399.5,61.0L402.5,67.8L395.5,65.5L386.5,57.5Z" fill="#eb7eb7"/><path d="M378.0,49.8L384.5,47.0L389.5,48.0L394.5,54.0L399.5,61.0L402.5,67.8L395.5,65.5L386.5,57.5Z" fill="#e03890" fill-opacity="0.8" filter="url(#f0_1)"/><ellipse cx="428.5" cy="44.0" rx="3" ry="4" fill="#5a6a40" fill-opacity="0.35" filter="url(#f1_2)"/><path d="M433.3,67.0C433.6,64.5 435.7,63.1 437.1,60.0C438.5,56.9 439.8,51.0 441.5,48.2C443.2,45.4 445.0,44.4 447.2,43.3C449.4,42.2 452.3,42.0 454.6,41.7C456.9,41.4 459.2,41.2 461.1,41.7C463.0,42.2 464.6,43.4 466.0,45.0C467.4,46.6 468.5,49.0 469.3,51.5C470.1,54.0 470.9,57.2 470.9,59.7C470.9,62.2 470.1,64.0 469.3,66.2C468.5,68.4 467.1,71.2 466.0,72.8C464.9,74.4 463.8,74.0 462.8,76.0C461.8,78.0 461.8,83.3 460.0,84.5C458.2,85.7 454.8,84.5 452.1,83.4C449.4,82.3 446.4,79.5 443.6,78.0C440.8,76.5 437.2,76.5 435.5,74.7C433.8,72.9 433.0,69.5 433.3,67.0Z" fill="#7f88d7"/><path d="M433.3,67.0C433.6,64.5 435.7,63.1 437.1,60.0C438.5,56.9 439.8,51.0 441.5,48.2C443.2,45.4 445.0,44.4 447.2,43.3C449.4,42.2 452.3,42.0 454.6,41.7C456.9,41.4 459.2,41.2 461.1,41.7C463.0,42.2 464.6,43.4 466.0,45.0C467.4,46.6 468.5,49.0 469.3,51.5C470.1,54.0 470.9,57.2 470.9,59.7C470.9,62.2 470.1,64.0 469.3,66.2C468.5,68.4 467.1,71.2 466.0,72.8C464.9,74.4 463.8,74.0 462.8,76.0C461.8,78.0 461.8,83.3 460.0,84.5C458.2,85.7 454.8,84.5 452.1,83.4C449.4,82.3 446.4,79.5 443.6,78.0C440.8,76.5 437.2,76.5 435.5,74.7C433.8,72.9 433.0,69.5 433.3,67.0Z" fill="#3a48c2" fill-opacity="0.8" filter="url(#f0_3)"/><path d="M479.9,66.2L484.0,63.8L488.9,67.0L493.0,72.8L497.1,77.7L497.1,82.6L493.8,86.7L490.5,89.1L485.6,85.8L481.6,79.3L479.1,74.4Z" fill="#db8bd6"/><path d="M479.9,66.2L484.0,63.8L488.9,67.0L493.0,72.8L497.1,77.7L497.1,82.6L493.8,86.7L490.5,89.1L485.6,85.8L481.6,79.3L479.1,74.4Z" fill="#c84cc0" fill-opacity="0.8" filter="url(#f0_4)"/><path d="M343.5,76.0C344.6,74.5 346.4,73.0 348.3,72.0C350.2,71.0 352.8,70.7 354.9,70.3C356.9,69.9 358.7,69.2 360.6,69.8C362.5,70.3 364.5,72.0 366.3,73.6C368.1,75.2 369.8,77.4 371.2,79.3C372.6,81.2 373.6,83.2 374.5,85.0C375.4,86.8 376.6,88.4 376.9,89.9C377.2,91.4 377.1,93.5 376.1,94.0C375.2,94.5 372.8,92.1 371.2,93.0C369.6,93.9 368.1,97.9 366.3,99.5C364.5,101.1 362.8,101.6 360.6,102.8C358.4,104.0 355.5,105.8 353.2,106.9C350.9,108.0 349.1,109.0 346.7,109.3C344.2,109.6 340.9,109.0 338.5,108.5C336.1,108.0 333.2,109.0 332.0,106.1C330.8,103.2 331.2,93.6 331.5,91.0C331.8,88.4 332.4,90.9 333.6,90.7C334.8,90.5 337.3,90.4 338.5,89.9C339.7,89.4 340.4,89.0 341.0,87.5C341.6,86.0 341.4,82.8 341.8,80.9C342.2,79.0 342.4,77.5 343.5,76.0Z" fill="#d995d9"/><path d="M343.5,76.0C344.6,74.5 346.4,73.0 348.3,72.0C350.2,71.0 352.8,70.7 354.9,70.3C356.9,69.9 358.7,69.2 360.6,69.8C362.5,70.3 364.5,72.0 366.3,73.6C368.1,75.2 369.8,77.4 371.2,79.3C372.6,81.2 373.6,83.2 374.5,85.0C375.4,86.8 376.6,88.4 376.9,89.9C377.2,91.4 377.1,93.5 376.1,94.0C375.2,94.5 372.8,92.1 371.2,93.0C369.6,93.9 368.1,97.9 366.3,99.5C364.5,101.1 362.8,101.6 360.6,102.8C358.4,104.0 355.5,105.8 353.2,106.9C350.9,108.0 349.1,109.0 346.7,109.3C344.2,109.6 340.9,109.0 338.5,108.5C336.1,108.0 333.2,109.0 332.0,106.1C330.8,103.2 331.2,93.6 331.5,91.0C331.8,88.4 332.4,90.9 333.6,90.7C334.8,90.5 337.3,90.4 338.5,89.9C339.7,89.4 340.4,89.0 341.0,87.5C341.6,86.0 341.4,82.8 341.8,80.9C342.2,79.0 342.4,77.5 343.5,76.0Z" fill="#c45cc4" fill-opacity="0.8" filter="url(#f0_5)"/><path d="M331.5,91.0C332.3,88.7 334.7,90.7 336.5,91.0C338.3,91.3 341.0,92.0 342.5,93.0C344.0,94.0 345.2,95.3 345.5,97.0C345.8,98.7 345.7,101.5 344.5,103.0C343.3,104.5 340.7,105.7 338.5,106.0C336.3,106.3 332.7,107.5 331.5,105.0C330.3,102.5 330.7,93.3 331.5,91.0Z" fill="#9e3ea6" fill-opacity="0.85" filter="url(#f1_6)"/><ellipse cx="387.5" cy="69.0" rx="14" ry="7" fill="#40c8d8" fill-opacity="0.25" filter="url(#f2_1)"/><path d="M382.5,75.0C385.0,72.5 390.7,72.0 394.5,72.0C398.3,72.0 403.2,72.8 405.5,75.0C407.8,77.2 408.3,81.3 408.5,85.0C408.7,88.7 407.8,93.8 406.5,97.0C405.2,100.2 403.2,102.7 400.5,104.0C397.8,105.3 393.5,105.8 390.5,105.0C387.5,104.2 384.3,102.0 382.5,99.0C380.7,96.0 379.5,91.0 379.5,87.0C379.5,83.0 380.0,77.5 382.5,75.0Z" fill="#d6d626" fill-opacity="0.33" filter="url(#f1_2)"/><ellipse cx="384.5" cy="97.0" rx="5" ry="4" fill="#a8d4dc" fill-opacity="0.3" filter="url(#f1_3)"/><path d="M404.5,77.0C405.0,75.2 407.5,71.7 408.5,71.0C409.5,70.3 410.5,71.3 410.5,73.0C410.5,74.7 409.3,79.5 408.5,81.0C407.7,82.5 406.2,82.7 405.5,82.0C404.8,81.3 404.0,78.8 404.5,77.0Z" fill="#d8a828" fill-opacity="0.7" filter="url(#f0_4)"/><path d="M412.6,79.6C413.3,77.7 415.3,75.9 417.5,74.7C419.7,73.5 422.7,72.6 425.7,72.3C428.7,72.0 432.5,72.1 435.5,73.1C438.5,74.0 441.6,76.1 443.6,78.0C445.6,79.9 447.1,82.3 447.7,84.5C448.2,86.7 447.8,89.2 446.9,91.1C445.9,93.0 444.2,94.9 442.0,96.0C439.8,97.1 436.8,97.6 433.8,97.6C430.8,97.6 426.7,97.1 424.0,96.0C421.3,94.9 419.3,92.7 417.5,91.1C415.7,89.5 414.2,88.1 413.4,86.2C412.6,84.3 411.9,81.5 412.6,79.6Z" fill="#71b377"/><path d="M412.6,79.6C413.3,77.7 415.3,75.9 417.5,74.7C419.7,73.5 422.7,72.6 425.7,72.3C428.7,72.0 432.5,72.1 435.5,73.1C438.5,74.0 441.6,76.1 443.6,78.0C445.6,79.9 447.1,82.3 447.7,84.5C448.2,86.7 447.8,89.2 446.9,91.1C445.9,93.0 444.2,94.9 442.0,96.0C439.8,97.1 436.8,97.6 433.8,97.6C430.8,97.6 426.7,97.1 424.0,96.0C421.3,94.9 419.3,92.7 417.5,91.1C415.7,89.5 414.2,88.1 413.4,86.2C412.6,84.3 411.9,81.5 412.6,79.6Z" fill="#248a2e" fill-opacity="0.8" filter="url(#f0_5)"/><path d="M402.5,100.0C402.3,98.5 403.8,95.3 405.0,93.0C406.2,90.7 408.2,87.8 409.5,86.0C410.8,84.2 411.7,82.8 413.0,82.5C414.3,82.2 415.7,83.0 417.5,84.5C419.3,86.0 422.2,89.4 424.0,91.7C425.8,94.0 428.6,96.9 428.3,98.4C428.0,99.9 425.0,100.3 422.4,100.9C419.8,101.5 415.3,102.0 412.6,102.2C409.9,102.4 407.8,102.4 406.1,102.0C404.4,101.6 402.7,101.5 402.5,100.0Z" fill="#73cdde"/><path d="M402.5,100.0C402.3,98.5 403.8,95.3 405.0,93.0C406.2,90.7 408.2,87.8 409.5,86.0C410.8,84.2 411.7,82.8 413.0,82.5C414.3,82.2 415.7,83.0 417.5,84.5C419.3,86.0 422.2,89.4 424.0,91.7C425.8,94.0 428.6,96.9 428.3,98.4C428.0,99.9 425.0,100.3 422.4,100.9C419.8,101.5 415.3,102.0 412.6,102.2C409.9,102.4 407.8,102.4 406.1,102.0C404.4,101.6 402.7,101.5 402.5,100.0Z" fill="#28b2cc" fill-opacity="0.8" filter="url(#f0_6)"/><ellipse cx="404.5" cy="97.0" rx="4" ry="4" fill="#40c8d8" fill-opacity="0.4" filter="url(#f1_1)"/><path d="M445.3,92.7C446.7,90.1 448.5,88.5 450.5,87.0C452.5,85.5 454.8,84.7 457.5,84.0C460.2,83.3 463.7,82.7 466.5,83.0C469.3,83.3 472.1,84.7 474.2,86.0C476.3,87.3 477.7,89.3 479.1,91.0C480.5,92.7 481.7,93.5 482.5,96.0C483.3,98.5 484.3,103.3 484.0,106.1C483.7,108.9 482.3,110.7 480.7,112.6C479.1,114.5 476.9,116.1 474.2,117.5C471.5,118.9 467.7,120.5 464.4,120.8C461.1,121.1 457.6,120.3 454.6,119.2C451.6,118.1 448.4,115.4 446.4,114.2C444.4,113.0 443.5,114.2 442.8,112.3C442.1,110.3 441.6,105.8 442.0,102.5C442.4,99.2 443.9,95.3 445.3,92.7Z" fill="#151548" fill-opacity="0.85" filter="url(#f0_2)"/><path d="M381.5,106.5L394.6,102.3L407.7,100.7L424.0,98.2L437.1,95.8L446.9,96.6L446.0,104.1L437.5,110.0L424.0,112.5L407.7,114.3L391.3,115.1L381.5,113.8Z" fill="#e3b2a9"/><path d="M381.5,106.5L394.6,102.3L407.7,100.7L424.0,98.2L437.1,95.8L446.9,96.6L446.0,104.1L437.5,110.0L424.0,112.5L407.7,114.3L391.3,115.1L381.5,113.8Z" fill="#d4887a" fill-opacity="0.8" filter="url(#f0_3)"/><path d="M424.5,105.0C426.7,103.7 433.3,103.0 436.5,103.0C439.7,103.0 442.7,103.7 443.5,105.0C444.3,106.3 443.7,109.8 441.5,111.0C439.3,112.2 433.5,112.5 430.5,112.5C427.5,112.5 424.5,112.2 423.5,111.0C422.5,109.8 422.3,106.3 424.5,105.0Z" fill="#b8d8b0" fill-opacity="0.3" filter="url(#f0_4)"/><path d="M406.5,80.0C407.0,78.8 409.7,77.5 410.5,78.0C411.3,78.5 412.0,81.8 411.5,83.0C411.0,84.2 408.3,85.5 407.5,85.0C406.7,84.5 406.0,81.2 406.5,80.0Z" fill="#151548" fill-opacity="0.5" filter="url(#f0_5)"/><path d="M366.3,111.0C366.6,109.2 367.4,107.3 368.8,106.1C370.2,104.9 372.5,104.1 374.5,103.6C376.5,103.0 379.1,102.5 381.0,102.8C382.9,103.1 384.5,104.2 385.9,105.3C387.3,106.4 388.9,107.8 389.2,109.3C389.5,110.8 388.2,112.5 387.6,114.2C387.1,115.9 385.6,117.6 385.9,119.2C386.2,120.8 388.1,122.5 389.2,124.1C390.3,125.7 392.4,127.8 392.5,129.0C392.6,130.2 391.6,131.1 390.0,131.4C388.4,131.7 385.0,131.5 382.7,130.6C380.4,129.7 378.0,127.3 376.1,125.7C374.2,124.1 372.7,122.3 371.2,120.8C369.7,119.3 367.9,118.3 367.1,116.7C366.3,115.1 366.0,112.8 366.3,111.0Z" fill="#d1d1ec"/><path d="M366.3,111.0C366.6,109.2 367.4,107.3 368.8,106.1C370.2,104.9 372.5,104.1 374.5,103.6C376.5,103.0 379.1,102.5 381.0,102.8C382.9,103.1 384.5,104.2 385.9,105.3C387.3,106.4 388.9,107.8 389.2,109.3C389.5,110.8 388.2,112.5 387.6,114.2C387.1,115.9 385.6,117.6 385.9,119.2C386.2,120.8 388.1,122.5 389.2,124.1C390.3,125.7 392.4,127.8 392.5,129.0C392.6,130.2 391.6,131.1 390.0,131.4C388.4,131.7 385.0,131.5 382.7,130.6C380.4,129.7 378.0,127.3 376.1,125.7C374.2,124.1 372.7,122.3 371.2,120.8C369.7,119.3 367.9,118.3 367.1,116.7C366.3,115.1 366.0,112.8 366.3,111.0Z" fill="#b8b8e2" fill-opacity="0.8" filter="url(#f0_6)"/><path d="M391.3,114.0C393.8,112.8 402.2,112.7 407.7,112.3C413.1,111.9 419.7,111.7 424.0,111.5C428.3,111.3 429.8,110.5 433.3,111.0C436.8,111.5 441.8,112.6 444.8,114.2C447.8,115.8 449.9,118.9 451.3,120.8C452.7,122.7 453.3,123.8 453.0,125.7C452.7,127.6 451.6,130.6 449.7,132.2C447.8,133.8 445.3,134.5 441.5,135.5C437.7,136.5 430.9,137.4 426.8,138.0C422.7,138.6 420.0,138.7 417.0,138.8C414.0,138.9 411.5,139.4 408.8,138.8C406.1,138.2 403.3,137.1 400.7,135.5C398.1,133.9 394.7,131.7 393.3,129.0C391.9,126.3 392.8,121.7 392.5,119.2C392.2,116.7 388.8,115.2 391.3,114.0Z" fill="#8bd785"/><path d="M391.3,114.0C393.8,112.8 402.2,112.7 407.7,112.3C413.1,111.9 419.7,111.7 424.0,111.5C428.3,111.3 429.8,110.5 433.3,111.0C436.8,111.5 441.8,112.6 444.8,114.2C447.8,115.8 449.9,118.9 451.3,120.8C452.7,122.7 453.3,123.8 453.0,125.7C452.7,127.6 451.6,130.6 449.7,132.2C447.8,133.8 445.3,134.5 441.5,135.5C437.7,136.5 430.9,137.4 426.8,138.0C422.7,138.6 420.0,138.7 417.0,138.8C414.0,138.9 411.5,139.4 408.8,138.8C406.1,138.2 403.3,137.1 400.7,135.5C398.1,133.9 394.7,131.7 393.3,129.0C391.9,126.3 392.8,121.7 392.5,119.2C392.2,116.7 388.8,115.2 391.3,114.0Z" fill="#4cc244" fill-opacity="0.8" filter="url(#f0_1)"/><path d="M449.7,125.7C451.6,124.1 454.9,123.5 457.9,123.2C460.9,122.9 465.1,123.4 467.7,124.1C470.3,124.8 472.9,126.0 473.4,127.3C473.9,128.7 472.9,130.8 470.9,132.2C468.8,133.6 464.4,134.8 461.1,135.5C457.8,136.2 453.8,136.7 451.3,136.3C448.9,135.9 446.7,134.8 446.4,133.0C446.1,131.2 447.8,127.3 449.7,125.7Z" fill="#cfcfd4" fill-opacity="0.85" filter="url(#f0_2)"/><path d="M400.5,133.0C402.2,132.2 412.6,135.3 417.0,135.5C421.4,135.7 423.0,134.2 426.8,133.9C430.6,133.6 435.8,133.8 439.9,133.9C444.0,134.0 448.9,134.2 451.3,134.7C453.8,135.2 455.4,136.1 454.6,137.1C453.8,138.1 449.4,139.7 446.4,140.4C443.4,141.1 439.9,140.9 436.6,141.2C433.3,141.5 430.1,141.9 426.8,142.0C423.5,142.1 420.4,142.3 417.0,142.0C413.6,141.7 409.2,141.5 406.5,140.0C403.8,138.5 398.8,133.8 400.5,133.0Z" fill="#c8d870" fill-opacity="0.85" filter="url(#f0_3)"/><path d="M351.6,119.2C352.2,118.2 354.3,119.0 356.5,120.0C358.7,121.0 361.7,123.1 364.7,124.9C367.7,126.7 371.2,128.8 374.5,130.6C377.8,132.4 381.7,133.9 384.3,135.5C386.9,137.1 389.3,139.2 390.0,140.4C390.7,141.6 389.9,141.9 388.4,142.5C386.9,143.1 383.6,143.6 381.0,144.0C378.4,144.4 375.3,145.0 372.9,145.0C370.4,145.0 368.3,145.1 366.3,144.2C364.3,143.3 362.6,141.5 361.0,139.5C359.4,137.5 358.4,134.5 357.0,132.2C355.6,129.9 353.6,127.9 352.7,125.7C351.8,123.5 351.0,120.2 351.6,119.2Z" fill="#a4a8dc" fill-opacity="0.75" filter="url(#f0_4)"/><path d="M351.6,119.2C352.2,118.2 354.3,119.0 356.5,120.0C358.7,121.0 361.7,123.1 364.7,124.9C367.7,126.7 371.2,128.8 374.5,130.6C377.8,132.4 381.7,133.9 384.3,135.5C386.9,137.1 389.3,139.2 390.0,140.4C390.7,141.6 389.9,141.9 388.4,142.5C386.9,143.1 383.6,143.6 381.0,144.0C378.4,144.4 375.3,145.0 372.9,145.0C370.4,145.0 368.3,145.1 366.3,144.2C364.3,143.3 362.6,141.5 361.0,139.5C359.4,137.5 358.4,134.5 357.0,132.2C355.6,129.9 353.6,127.9 352.7,125.7C351.8,123.5 351.0,120.2 351.6,119.2Z" fill="#3238aa" fill-opacity="0.78" filter="url(#f0_5)"/><path d="M352.5,118.0L356.5,118.5L365.5,123.5L375.5,129.0L385.5,134.5L391.0,139.5L387.5,138.0L377.5,132.0L367.5,127.0L358.5,123.0Z" fill="#c84cc0" fill-opacity="0.4" filter="url(#f0_6)"/><ellipse cx="425.5" cy="150.0" rx="9" ry="5.5" fill="#dcd4b0" fill-opacity="0.7" filter="url(#f1_1)"/><ellipse cx="420.5" cy="151.0" rx="4" ry="3" fill="#a890c0" fill-opacity="0.3" filter="url(#f1_2)"/><ellipse cx="456.0" cy="145.5" rx="1.5" ry="1.2" fill="#c06020" fill-opacity="0.8" filter="url(#f0_3)"/></g></g>
<text x="432.9" y="36.9" font-size="10" text-anchor="middle" fill="#111" stroke="#111" stroke-width="0.35">19</text>
<text x="466.0" y="42.5" font-size="10" text-anchor="middle" fill="#111" stroke="#111" stroke-width="0.35">1</text>
<text x="398.2" y="50.3" font-size="10" text-anchor="middle" fill="#111" stroke="#111" stroke-width="0.35">2</text>
<text x="386.5" y="58.5" font-size="10" text-anchor="middle" fill="#111" stroke="#111" stroke-width="0.35">17</text>
<text x="376.9" y="65.8" font-size="10" text-anchor="middle" fill="#111" stroke="#111" stroke-width="0.35">10</text>
<text x="487.3" y="63.4" font-size="10" text-anchor="middle" fill="#111" stroke="#111" stroke-width="0.35">15</text>
<text x="340.5" y="69.1" font-size="10" text-anchor="middle" fill="#111" stroke="#111" stroke-width="0.35">24</text>
<text x="405.2" y="78.7" font-size="10" text-anchor="middle" fill="#111" stroke="#111" stroke-width="0.35">21</text>
<text x="429.8" y="84.1" font-size="10" text-anchor="middle" fill="#111" stroke="#111" stroke-width="0.35">7</text>
<text x="354.9" y="83.8" font-size="10" text-anchor="middle" fill="#111" stroke="#111" stroke-width="0.35">5</text>
<text x="388.9" y="92.8" font-size="10" text-anchor="middle" fill="#111" stroke="#111" stroke-width="0.35">6</text>
<text x="412.9" y="97.7" font-size="10" text-anchor="middle" fill="#111" stroke="#111" stroke-width="0.35">11</text>
<text x="338.5" y="100.0" font-size="10" text-anchor="middle" fill="#111" stroke="#111" stroke-width="0.35">16</text>
<text x="376.8" y="102.7" font-size="10" text-anchor="middle" fill="#111" stroke="#111" stroke-width="0.35">23</text>
<text x="415.0" y="109.5" font-size="10" text-anchor="middle" fill="#111" stroke="#111" stroke-width="0.35">9</text>
<text x="432.3" y="113.1" font-size="10" text-anchor="middle" fill="#111" stroke="#111" stroke-width="0.35">20</text>
<text x="489.7" y="109.0" font-size="10" text-anchor="middle" fill="#111" stroke="#111" stroke-width="0.35">4</text>
<text x="374.2" y="117.6" font-size="10" text-anchor="middle" fill="#111" stroke="#111" stroke-width="0.35">8</text>
<text x="409.9" y="126.2" font-size="10" text-anchor="middle" fill="#111" stroke="#111" stroke-width="0.35">3</text>
<text x="459.5" y="131.0" font-size="10" text-anchor="middle" fill="#111" stroke="#111" stroke-width="0.35">14</text>
<text x="435.0" y="141.2" font-size="10" text-anchor="middle" fill="#111" stroke="#111" stroke-width="0.35">13</text>
<text x="356.2" y="147.4" font-size="10" text-anchor="middle" fill="#111" stroke="#111" stroke-width="0.35">12</text>
<text x="459.5" y="152.7" font-size="10" text-anchor="middle" fill="#111" stroke="#111" stroke-width="0.35">22</text>
<text x="426.8" y="154.7" font-size="10" text-anchor="middle" fill="#111" stroke="#111" stroke-width="0.35">18</text>
<text x="399.0" y="158.0" font-size="10" text-anchor="middle" fill="#111" stroke="#111" stroke-width="0.35">25</text>
<g clip-path="url(#cp2)"><g filter="url(#soft)"><ellipse cx="167.5" cy="285.7" rx="50" ry="38" fill="#8a8a9a" fill-opacity="0.05" filter="url(#f3_4)"/><path d="M122.5,293.7C123.2,286.4 125.5,270.7 130.5,265.7C135.5,260.7 146.2,264.7 152.5,263.7C158.8,262.7 163.5,260.7 168.5,259.7C173.5,258.7 178.2,256.7 182.5,257.7C186.8,258.7 192.2,261.4 194.5,265.7C196.8,270.0 196.5,277.7 196.5,283.7C196.5,289.7 193.2,297.4 194.5,301.7C195.8,306.0 202.8,306.7 204.5,309.7C206.2,312.7 208.2,316.7 204.5,319.7C200.8,322.7 190.8,326.4 182.5,327.7C174.2,329.0 161.2,329.4 154.5,327.7C147.8,326.0 147.2,320.7 142.5,317.7C137.8,314.7 129.8,313.7 126.5,309.7C123.2,305.7 121.8,301.0 122.5,293.7Z" fill="#cdc8d4" fill-opacity="0.45" filter="url(#f1_5)"/><ellipse cx="192.5" cy="305.7" rx="30" ry="20" fill="#b0b0c8" fill-opacity="0.06" filter="url(#f3_6)"/><ellipse cx="127.5" cy="305.7" rx="12" ry="10" fill="#b0b0c8" fill-opacity="0.15" filter="url(#f3_1)"/><path d="M215.5,243.7C216.2,241.0 219.5,246.7 220.5,249.7C221.5,252.7 222.2,259.0 221.5,261.7C220.8,264.4 217.5,268.7 216.5,265.7C215.5,262.7 214.8,246.4 215.5,243.7Z" fill="#cfcfd4" fill-opacity="0.5" filter="url(#f1_2)"/><path d="M183.3,253.9C183.8,252.0 186.5,249.0 188.2,245.7C189.8,242.4 191.5,236.6 193.2,234.2C194.8,231.8 195.9,231.9 198.1,231.0C200.3,230.1 203.5,228.9 206.2,228.5C208.9,228.1 212.3,228.1 214.4,228.5C216.5,228.9 217.7,229.2 218.5,231.0C219.3,232.8 219.4,236.2 219.3,239.2C219.2,242.2 218.4,245.7 217.7,249.0C217.0,252.3 216.0,255.8 215.2,258.8C214.4,261.8 213.8,264.7 212.8,266.9C211.9,269.1 211.0,271.1 209.5,271.8C208.0,272.5 205.7,272.1 203.8,271.0C201.9,269.9 200.2,267.1 198.1,265.3C196.0,263.5 193.7,261.8 191.5,260.4C189.3,259.0 186.4,258.2 185.0,257.1C183.6,256.0 182.8,255.8 183.3,253.9Z" fill="#7f88d7"/><path d="M183.3,253.9C183.8,252.0 186.5,249.0 188.2,245.7C189.8,242.4 191.5,236.6 193.2,234.2C194.8,231.8 195.9,231.9 198.1,231.0C200.3,230.1 203.5,228.9 206.2,228.5C208.9,228.1 212.3,228.1 214.4,228.5C216.5,228.9 217.7,229.2 218.5,231.0C219.3,232.8 219.4,236.2 219.3,239.2C219.2,242.2 218.4,245.7 217.7,249.0C217.0,252.3 216.0,255.8 215.2,258.8C214.4,261.8 213.8,264.7 212.8,266.9C211.9,269.1 211.0,271.1 209.5,271.8C208.0,272.5 205.7,272.1 203.8,271.0C201.9,269.9 200.2,267.1 198.1,265.3C196.0,263.5 193.7,261.8 191.5,260.4C189.3,259.0 186.4,258.2 185.0,257.1C183.6,256.0 182.8,255.8 183.3,253.9Z" fill="#3a48c2" fill-opacity="0.8" filter="url(#f0_3)"/><path d="M116.3,243.2L118.8,241.1L122.9,241.6L131.0,244.9L139.2,249.8L147.4,254.7L153.5,259.2L154.0,262.5L148.5,263.5L131.0,263.3L126.1,260.7L122.0,254.7L118.0,248.1Z" fill="#83dbe6"/><path d="M116.3,243.2L118.8,241.1L122.9,241.6L131.0,244.9L139.2,249.8L147.4,254.7L153.5,259.2L154.0,262.5L148.5,263.5L131.0,263.3L126.1,260.7L122.0,254.7L118.0,248.1Z" fill="#40c8d8" fill-opacity="0.8" filter="url(#f0_4)"/><ellipse cx="160.5" cy="244.7" rx="16" ry="9" fill="#e02426" fill-opacity="0.07" transform="rotate(15 160.5 244.7)" filter="url(#f3_5)"/><ellipse cx="170.5" cy="248.7" rx="7" ry="5" fill="#e02426" fill-opacity="0.17" filter="url(#f2_6)"/><ellipse cx="142.5" cy="245.7" rx="6" ry="3" fill="#e03890" fill-opacity="0.2" filter="url(#f2_1)"/><ellipse cx="174.5" cy="222.0" rx="1.2" ry="1.2" fill="#303820" fill-opacity="0.8" filter="url(#f0_2)"/><path d="M227.5,263.7L229.9,255.5L232.4,251.4L235.6,250.6L240.6,253.9L244.6,258.8L247.1,263.7L247.1,266.9L243.8,268.6L238.9,268.6L234.0,266.9L229.1,266.9Z" fill="#db8bd6"/><path d="M227.5,263.7L229.9,255.5L232.4,251.4L235.6,250.6L240.6,253.9L244.6,258.8L247.1,263.7L247.1,266.9L243.8,268.6L238.9,268.6L234.0,266.9L229.1,266.9Z" fill="#c84cc0" fill-opacity="0.8" filter="url(#f0_3)"/><ellipse cx="238.5" cy="271.7" rx="8" ry="4" fill="#c84cc0" fill-opacity="0.3" filter="url(#f1_4)"/><ellipse cx="107.5" cy="270.7" rx="13" ry="10" fill="#c45cc4" fill-opacity="0.3" filter="url(#f3_5)"/><path d="M108.5,265.7C110.2,263.7 113.8,262.9 116.5,263.7C119.2,264.5 122.8,268.0 124.5,270.7C126.2,273.4 127.2,276.9 126.5,279.7C125.8,282.5 123.2,286.7 120.5,287.7C117.8,288.7 112.8,287.7 110.5,285.7C108.2,283.7 106.8,279.0 106.5,275.7C106.2,272.4 106.8,267.7 108.5,265.7Z" fill="#c45cc4" fill-opacity="0.75" filter="url(#f1_6)"/><path d="M82.5,278.7C83.8,276.5 88.0,277.2 90.5,277.7C93.0,278.2 96.2,279.9 97.5,281.7C98.8,283.5 99.3,287.0 98.5,288.7C97.7,290.4 95.2,291.4 92.5,291.7C89.8,292.0 84.2,292.9 82.5,290.7C80.8,288.5 81.2,280.9 82.5,278.7Z" fill="#9e3ea6" fill-opacity="0.85" filter="url(#f1_1)"/><path d="M128.3,264.8L141.3,264.0L151.2,263.2L153.6,266.4L152.0,275.4L149.5,283.6L146.2,290.1L143.0,296.7L138.9,298.3L134.8,293.4L132.4,283.6L129.9,273.8Z" fill="#e4e472"/><path d="M128.3,264.8L141.3,264.0L151.2,263.2L153.6,266.4L152.0,275.4L149.5,283.6L146.2,290.1L143.0,296.7L138.9,298.3L134.8,293.4L132.4,283.6L129.9,273.8Z" fill="#d6d626" fill-opacity="0.8" filter="url(#f0_2)"/><ellipse cx="143.5" cy="305.7" rx="4" ry="6" fill="#d6d626" fill-opacity="0.5" filter="url(#f1_3)"/><path d="M155.5,266.7C156.0,265.4 158.3,264.7 159.5,264.7C160.7,264.7 162.3,265.5 162.5,266.7C162.7,267.9 161.5,270.7 160.5,271.7C159.5,272.7 157.3,273.5 156.5,272.7C155.7,271.9 155.0,268.0 155.5,266.7Z" fill="#20289c" fill-opacity="0.8" filter="url(#f0_4)"/><path d="M169.1,265.6L172.4,260.7L178.9,258.3L187.1,259.9L193.6,264.0L198.5,272.2L196.9,278.7L190.4,283.6L180.6,285.2L178.5,284.2Z" fill="#248a2e" fill-opacity="0.88" filter="url(#f0_5)"/><path d="M151.0,286.2L157.5,275.7L164.2,270.0L169.1,271.7L176.5,278.7L181.0,284.2L174.5,285.7L164.2,287.2L154.4,288.2Z" fill="#73cdde"/><path d="M151.0,286.2L157.5,275.7L164.2,270.0L169.1,271.7L176.5,278.7L181.0,284.2L174.5,285.7L164.2,287.2L154.4,288.2Z" fill="#28b2cc" fill-opacity="0.8" filter="url(#f0_6)"/><path d="M192.5,283.7C193.1,281.9 194.5,279.9 196.5,278.7C198.5,277.5 201.0,277.0 204.5,276.7C208.0,276.4 213.5,276.2 217.5,276.7C221.5,277.2 225.8,278.1 228.5,279.7C231.2,281.3 232.8,284.3 234.0,286.5C235.2,288.7 235.9,290.9 235.6,293.1C235.3,295.3 234.3,297.7 232.4,299.6C230.5,301.5 226.9,303.4 224.2,304.5C221.5,305.6 219.0,306.5 216.0,306.2C213.0,305.9 209.2,304.3 206.2,302.9C203.2,301.5 200.3,300.2 198.1,298.0C195.9,295.8 194.1,292.2 193.2,289.8C192.3,287.4 191.9,285.5 192.5,283.7Z" fill="#151548" fill-opacity="0.8" filter="url(#f0_1)"/><ellipse cx="222.5" cy="295.7" rx="9" ry="7" fill="#b0b0c8" fill-opacity="0.35" filter="url(#f1_2)"/><path d="M143.0,292.4L152.8,288.3L165.9,286.7L178.9,284.2L190.4,281.8L195.8,283.9L192.5,292.4L180.1,297.3L167.0,299.5L161.0,299.8L149.5,303.1L143.0,303.4Z" fill="#e3b2a9"/><path d="M143.0,292.4L152.8,288.3L165.9,286.7L178.9,284.2L190.4,281.8L195.8,283.9L192.5,292.4L180.1,297.3L167.0,299.5L161.0,299.8L149.5,303.1L143.0,303.4Z" fill="#d4887a" fill-opacity="0.8" filter="url(#f0_3)"/><path d="M119.6,293.1C121.1,291.7 125.1,289.8 127.8,289.8C130.5,289.8 133.7,291.5 135.9,293.1C138.1,294.7 139.4,296.9 140.8,299.6C142.2,302.3 143.8,306.4 144.1,309.4C144.4,312.4 143.9,316.5 142.5,317.6C141.1,318.7 138.1,317.1 135.9,316.0C133.7,314.9 131.6,313.3 129.4,311.1C127.2,308.9 124.7,305.1 122.9,302.9C121.1,300.7 119.3,299.6 118.8,298.0C118.2,296.4 118.1,294.5 119.6,293.1Z" fill="#b8b8e2" fill-opacity="0.5" filter="url(#f1_4)"/><path d="M146.2,309.8C148.5,307.4 153.1,304.7 157.7,303.2C162.3,301.7 169.7,301.1 174.0,300.8C178.3,300.5 179.8,300.6 183.3,301.2C186.8,301.8 191.8,302.9 194.8,304.5C197.8,306.1 200.5,308.9 201.3,311.1C202.1,313.3 201.3,315.8 199.7,317.6C198.1,319.4 194.8,320.6 191.5,321.7C188.2,322.8 184.2,323.6 180.1,324.1C176.0,324.6 170.3,324.7 167.0,324.7C163.7,324.7 163.2,324.6 160.5,324.1C157.8,323.6 153.4,322.8 150.7,321.7C148.0,320.6 144.8,319.6 144.1,317.6C143.3,315.6 143.9,312.2 146.2,309.8Z" fill="#8bd785"/><path d="M146.2,309.8C148.5,307.4 153.1,304.7 157.7,303.2C162.3,301.7 169.7,301.1 174.0,300.8C178.3,300.5 179.8,300.6 183.3,301.2C186.8,301.8 191.8,302.9 194.8,304.5C197.8,306.1 200.5,308.9 201.3,311.1C202.1,313.3 201.3,315.8 199.7,317.6C198.1,319.4 194.8,320.6 191.5,321.7C188.2,322.8 184.2,323.6 180.1,324.1C176.0,324.6 170.3,324.7 167.0,324.7C163.7,324.7 163.2,324.6 160.5,324.1C157.8,323.6 153.4,322.8 150.7,321.7C148.0,320.6 144.8,319.6 144.1,317.6C143.3,315.6 143.9,312.2 146.2,309.8Z" fill="#4cc244" fill-opacity="0.8" filter="url(#f0_5)"/><path d="M199.7,312.7C201.8,311.6 206.2,310.3 209.5,310.2C212.8,310.1 217.0,311.2 219.3,311.9C221.6,312.6 223.4,313.2 223.4,314.3C223.4,315.4 221.6,317.3 219.3,318.4C217.0,319.5 212.8,320.5 209.5,320.9C206.2,321.3 201.8,321.6 199.7,320.9C197.6,320.2 197.2,318.2 197.2,316.8C197.2,315.4 197.6,313.8 199.7,312.7Z" fill="#cfcfd4" fill-opacity="0.8" filter="url(#f0_6)"/><ellipse cx="182.5" cy="324.7" rx="12" ry="3" fill="#c8d870" fill-opacity="0.3" filter="url(#f2_1)"/><path d="M118.8,315.1C119.8,314.4 121.1,313.7 122.9,314.3C124.7,314.8 127.2,317.0 129.4,318.4C131.6,319.8 134.0,321.1 135.9,322.5C137.8,323.9 140.1,325.5 140.8,326.6C141.5,327.7 140.8,328.5 140.0,329.0C139.2,329.5 137.7,329.5 135.9,329.8C134.1,330.1 131.6,331.1 129.4,330.7C127.2,330.3 124.5,328.8 122.9,327.4C121.3,326.0 120.6,324.0 119.6,322.5C118.6,321.0 117.2,319.6 117.1,318.4C117.0,317.2 117.8,315.8 118.8,315.1Z" fill="#20289c" fill-opacity="0.85" filter="url(#f0_2)"/><ellipse cx="112.5" cy="311.7" rx="6" ry="5" fill="#20289c" fill-opacity="0.18" filter="url(#f2_3)"/><ellipse cx="177.5" cy="333.7" rx="2.5" ry="2" fill="#dcd4b0" fill-opacity="0.4" filter="url(#f1_4)"/></g></g>
<text x="185.0" y="224.9" font-size="10" text-anchor="middle" fill="#111" stroke="#111" stroke-width="0.35">19</text>
<text x="218.5" y="229.8" font-size="10" text-anchor="middle" fill="#111" stroke="#111" stroke-width="0.35">1</text>
<text x="150.7" y="237.9" font-size="10" text-anchor="middle" fill="#111" stroke="#111" stroke-width="0.35">2</text>
<text x="239.4" y="251.4" font-size="10" text-anchor="middle" fill="#111" stroke="#111" stroke-width="0.35">15</text>
<text x="139.2" y="245.8" font-size="10" text-anchor="middle" fill="#111" stroke="#111" stroke-width="0.35">17</text>
<text x="129.4" y="254.0" font-size="10" text-anchor="middle" fill="#111" stroke="#111" stroke-width="0.35">10</text>
<text x="92.6" y="256.7" font-size="10" text-anchor="middle" fill="#111" stroke="#111" stroke-width="0.35">24</text>
<text x="158.5" y="265.2" font-size="10" text-anchor="middle" fill="#111" stroke="#111" stroke-width="0.35">21</text>
<text x="181.4" y="271.8" font-size="10" text-anchor="middle" fill="#111" stroke="#111" stroke-width="0.35">7</text>
<text x="106.5" y="272.3" font-size="10" text-anchor="middle" fill="#111" stroke="#111" stroke-width="0.35">5</text>
<text x="140.5" y="279.9" font-size="10" text-anchor="middle" fill="#111" stroke="#111" stroke-width="0.35">6</text>
<text x="165.0" y="284.8" font-size="10" text-anchor="middle" fill="#111" stroke="#111" stroke-width="0.35">11</text>
<text x="91.0" y="287.8" font-size="10" text-anchor="middle" fill="#111" stroke="#111" stroke-width="0.35">16</text>
<text x="128.9" y="290.4" font-size="10" text-anchor="middle" fill="#111" stroke="#111" stroke-width="0.35">23</text>
<text x="167.2" y="297.1" font-size="10" text-anchor="middle" fill="#111" stroke="#111" stroke-width="0.35">9</text>
<text x="184.5" y="300.9" font-size="10" text-anchor="middle" fill="#111" stroke="#111" stroke-width="0.35">20</text>
<text x="241.9" y="297.1" font-size="10" text-anchor="middle" fill="#111" stroke="#111" stroke-width="0.35">4</text>
<text x="126.1" y="305.3" font-size="10" text-anchor="middle" fill="#111" stroke="#111" stroke-width="0.35">8</text>
<text x="166.7" y="314.3" font-size="10" text-anchor="middle" fill="#111" stroke="#111" stroke-width="0.35">3</text>
<text x="211.1" y="318.8" font-size="10" text-anchor="middle" fill="#111" stroke="#111" stroke-width="0.35">14</text>
<text x="187.4" y="329.1" font-size="10" text-anchor="middle" fill="#111" stroke="#111" stroke-width="0.35">13</text>
<text x="108.2" y="335.2" font-size="10" text-anchor="middle" fill="#111" stroke="#111" stroke-width="0.35">12</text>
<text x="211.1" y="340.1" font-size="10" text-anchor="middle" fill="#111" stroke="#111" stroke-width="0.35">22</text>
<text x="179.3" y="342.5" font-size="10" text-anchor="middle" fill="#111" stroke="#111" stroke-width="0.35">18</text>
<text x="150.7" y="345.5" font-size="10" text-anchor="middle" fill="#111" stroke="#111" stroke-width="0.35">25</text>
<g clip-path="url(#cp3)"><g filter="url(#soft)"><ellipse cx="417.5" cy="285.7" rx="50" ry="38" fill="#8a8a9a" fill-opacity="0.04" filter="url(#f3_5)"/><path d="M366.5,293.7C367.8,286.0 371.8,269.7 376.5,263.7C381.2,257.7 388.5,258.4 394.5,257.7C400.5,257.0 406.8,260.0 412.5,259.7C418.2,259.4 423.2,255.0 428.5,255.7C433.8,256.4 441.2,259.4 444.5,263.7C447.8,268.0 448.5,275.7 448.5,281.7C448.5,287.7 443.2,295.4 444.5,299.7C445.8,304.0 454.2,304.0 456.5,307.7C458.8,311.4 461.8,317.4 458.5,321.7C455.2,326.0 445.5,331.7 436.5,333.7C427.5,335.7 412.2,336.0 404.5,333.7C396.8,331.4 396.5,323.7 390.5,319.7C384.5,315.7 372.5,314.0 368.5,309.7C364.5,305.4 365.2,301.4 366.5,293.7Z" fill="#cbc6d2" fill-opacity="0.6" filter="url(#f1_6)"/><path d="M466.0,245.7C466.8,243.9 470.4,247.0 471.5,248.7C472.6,250.4 472.6,253.7 472.6,255.7C472.6,257.7 472.5,260.0 471.5,260.7C470.5,261.4 467.4,262.2 466.5,259.7C465.6,257.2 465.2,247.5 466.0,245.7Z" fill="#cfcfd4" fill-opacity="0.7" filter="url(#f1_1)"/><path d="M384.3,229.3C384.3,227.4 384.8,227.3 385.9,226.1C387.0,224.9 388.9,223.1 390.8,222.0C392.7,220.9 394.9,220.1 397.4,219.5C399.9,218.9 402.9,218.8 405.6,218.7C408.3,218.6 411.8,218.5 413.7,218.7C415.6,218.9 415.4,219.3 417.0,219.7C418.6,220.1 421.6,220.1 423.5,221.2C425.4,222.3 427.0,223.9 428.4,226.1C429.8,228.3 430.9,231.8 431.7,234.2C432.5,236.6 433.3,238.6 433.3,240.8C433.3,243.0 432.8,245.4 431.7,247.3C430.6,249.2 428.7,251.1 426.8,252.2C424.9,253.3 422.9,253.4 420.3,253.9C417.7,254.4 413.9,255.2 411.0,255.0C408.1,254.8 405.5,253.7 402.8,252.5C400.1,251.3 396.6,249.0 394.6,247.6C392.6,246.2 392.2,245.8 390.8,244.1C389.4,242.4 387.0,240.0 385.9,237.5C384.8,235.0 384.3,231.2 384.3,229.3Z" fill="#eb7172"/><path d="M384.3,229.3C384.3,227.4 384.8,227.3 385.9,226.1C387.0,224.9 388.9,223.1 390.8,222.0C392.7,220.9 394.9,220.1 397.4,219.5C399.9,218.9 402.9,218.8 405.6,218.7C408.3,218.6 411.8,218.5 413.7,218.7C415.6,218.9 415.4,219.3 417.0,219.7C418.6,220.1 421.6,220.1 423.5,221.2C425.4,222.3 427.0,223.9 428.4,226.1C429.8,228.3 430.9,231.8 431.7,234.2C432.5,236.6 433.3,238.6 433.3,240.8C433.3,243.0 432.8,245.4 431.7,247.3C430.6,249.2 428.7,251.1 426.8,252.2C424.9,253.3 422.9,253.4 420.3,253.9C417.7,254.4 413.9,255.2 411.0,255.0C408.1,254.8 405.5,253.7 402.8,252.5C400.1,251.3 396.6,249.0 394.6,247.6C392.6,246.2 392.2,245.8 390.8,244.1C389.4,242.4 387.0,240.0 385.9,237.5C384.8,235.0 384.3,231.2 384.3,229.3Z" fill="#e02426" fill-opacity="0.8" filter="url(#f0_2)"/><path d="M423.5,220.4C424.1,219.3 425.7,218.8 426.8,219.5C427.9,220.2 428.7,223.2 430.1,224.4C431.5,225.6 434.3,225.8 435.0,226.9C435.7,228.0 435.0,229.8 434.2,231.0C433.4,232.2 431.5,234.1 430.1,234.2C428.7,234.3 427.1,233.1 426.0,231.8C424.9,230.4 423.9,228.0 423.5,226.1C423.1,224.2 422.9,221.5 423.5,220.4Z" fill="#787e6e"/><path d="M423.5,220.4C424.1,219.3 425.7,218.8 426.8,219.5C427.9,220.2 428.7,223.2 430.1,224.4C431.5,225.6 434.3,225.8 435.0,226.9C435.7,228.0 435.0,229.8 434.2,231.0C433.4,232.2 431.5,234.1 430.1,234.2C428.7,234.3 427.1,233.1 426.0,231.8C424.9,230.4 423.9,228.0 423.5,226.1C423.1,224.2 422.9,221.5 423.5,220.4Z" fill="#303820" fill-opacity="0.8" filter="url(#f0_3)"/><path d="M379.4,235.9L385.9,233.7L390.5,235.7L395.5,241.7L400.5,248.7L403.0,254.2L398.5,253.7L390.5,246.7L383.5,240.7Z" fill="#eb7eb7"/><path d="M379.4,235.9L385.9,233.7L390.5,235.7L395.5,241.7L400.5,248.7L403.0,254.2L398.5,253.7L390.5,246.7L383.5,240.7Z" fill="#e03890" fill-opacity="0.8" filter="url(#f0_4)"/><path d="M365.5,244.9L368.0,242.4L372.9,242.4L381.0,244.9L389.2,249.0L397.4,253.9L402.3,257.9L402.3,262.0L397.4,262.9L381.0,262.9L376.9,260.4L372.0,255.5L367.1,249.8Z" fill="#40c8d8" fill-opacity="0.8" filter="url(#f0_5)"/><path d="M433.3,252.2C433.8,250.0 436.8,248.4 438.2,245.7C439.6,243.0 440.1,238.3 441.5,235.9C442.9,233.4 444.2,232.4 446.4,231.0C448.6,229.6 451.9,228.4 454.6,227.7C457.3,227.0 460.6,226.8 462.8,226.9C465.0,227.0 466.5,227.3 467.7,228.5C468.9,229.7 469.6,231.9 470.1,234.2C470.6,236.5 471.0,239.7 470.9,242.4C470.8,245.1 469.8,248.2 469.3,250.6C468.8,253.0 468.2,254.9 467.7,257.1C467.1,259.3 466.8,261.8 466.0,263.7C465.2,265.6 464.0,267.2 462.8,268.6C461.6,269.9 460.5,271.8 458.7,271.8C456.9,271.9 454.3,270.2 451.8,268.9C449.3,267.6 446.3,265.6 443.6,264.0C440.9,262.4 437.2,261.1 435.5,259.1C433.8,257.1 432.9,254.4 433.3,252.2Z" fill="#7f88d7"/><path d="M433.3,252.2C433.8,250.0 436.8,248.4 438.2,245.7C439.6,243.0 440.1,238.3 441.5,235.9C442.9,233.4 444.2,232.4 446.4,231.0C448.6,229.6 451.9,228.4 454.6,227.7C457.3,227.0 460.6,226.8 462.8,226.9C465.0,227.0 466.5,227.3 467.7,228.5C468.9,229.7 469.6,231.9 470.1,234.2C470.6,236.5 471.0,239.7 470.9,242.4C470.8,245.1 469.8,248.2 469.3,250.6C468.8,253.0 468.2,254.9 467.7,257.1C467.1,259.3 466.8,261.8 466.0,263.7C465.2,265.6 464.0,267.2 462.8,268.6C461.6,269.9 460.5,271.8 458.7,271.8C456.9,271.9 454.3,270.2 451.8,268.9C449.3,267.6 446.3,265.6 443.6,264.0C440.9,262.4 437.2,261.1 435.5,259.1C433.8,257.1 432.9,254.4 433.3,252.2Z" fill="#3a48c2" fill-opacity="0.8" filter="url(#f0_6)"/><path d="M478.5,253.7L484.5,250.7L490.5,253.7L496.5,261.7L497.5,269.7L492.5,275.7L482.5,273.7L477.5,265.7Z" fill="#c84cc0" fill-opacity="0.25" filter="url(#f1_1)"/><path d="M483.5,250.7L488.5,251.7L495.5,259.7L497.5,266.7L493.5,265.7L487.5,257.7Z" fill="#c84cc0" fill-opacity="0.45" filter="url(#f0_2)"/><path d="M341.8,262.0C342.9,260.5 344.5,259.0 346.7,257.9C348.9,256.8 352.4,255.8 354.9,255.5C357.3,255.2 359.2,255.1 361.4,255.8C363.6,256.5 365.9,258.0 368.0,259.6C370.1,261.2 372.2,263.3 373.7,265.3C375.2,267.3 376.2,269.4 376.9,271.8C377.6,274.2 378.5,278.6 377.8,280.0C377.1,281.4 374.5,278.9 372.9,280.0C371.3,281.1 370.2,284.6 368.0,286.5C365.8,288.4 362.5,289.9 359.8,291.4C357.1,292.9 354.1,294.7 351.6,295.5C349.2,296.3 347.6,297.0 345.1,296.3C342.7,295.6 339.2,293.5 336.9,291.4C334.6,289.3 332.4,286.1 331.5,283.7C330.6,281.2 331.1,278.0 331.5,276.7C331.9,275.4 332.7,276.4 333.6,275.9C334.5,275.4 335.8,275.0 336.9,273.5C338.0,272.0 339.4,268.8 340.2,266.9C341.0,265.0 340.7,263.5 341.8,262.0Z" fill="#d995d9"/><path d="M341.8,262.0C342.9,260.5 344.5,259.0 346.7,257.9C348.9,256.8 352.4,255.8 354.9,255.5C357.3,255.2 359.2,255.1 361.4,255.8C363.6,256.5 365.9,258.0 368.0,259.6C370.1,261.2 372.2,263.3 373.7,265.3C375.2,267.3 376.2,269.4 376.9,271.8C377.6,274.2 378.5,278.6 377.8,280.0C377.1,281.4 374.5,278.9 372.9,280.0C371.3,281.1 370.2,284.6 368.0,286.5C365.8,288.4 362.5,289.9 359.8,291.4C357.1,292.9 354.1,294.7 351.6,295.5C349.2,296.3 347.6,297.0 345.1,296.3C342.7,295.6 339.2,293.5 336.9,291.4C334.6,289.3 332.4,286.1 331.5,283.7C330.6,281.2 331.1,278.0 331.5,276.7C331.9,275.4 332.7,276.4 333.6,275.9C334.5,275.4 335.8,275.0 336.9,273.5C338.0,272.0 339.4,268.8 340.2,266.9C341.0,265.0 340.7,263.5 341.8,262.0Z" fill="#c45cc4" fill-opacity="0.8" filter="url(#f0_3)"/><path d="M331.5,277.7C332.5,275.2 335.5,276.4 337.5,276.7C339.5,277.0 341.8,278.4 343.5,279.7C345.2,281.0 347.0,282.9 347.5,284.7C348.0,286.5 347.7,289.2 346.5,290.7C345.3,292.2 343.0,293.5 340.5,293.7C338.0,293.9 333.0,294.4 331.5,291.7C330.0,289.0 330.5,280.2 331.5,277.7Z" fill="#c082c5"/><path d="M331.5,277.7C332.5,275.2 335.5,276.4 337.5,276.7C339.5,277.0 341.8,278.4 343.5,279.7C345.2,281.0 347.0,282.9 347.5,284.7C348.0,286.5 347.7,289.2 346.5,290.7C345.3,292.2 343.0,293.5 340.5,293.7C338.0,293.9 333.0,294.4 331.5,291.7C330.0,289.0 330.5,280.2 331.5,277.7Z" fill="#9e3ea6" fill-opacity="0.8" filter="url(#f1_4)"/><path d="M378.3,264.0L391.3,263.2L402.0,262.3L404.4,267.2L403.6,277.1L401.2,285.2L397.9,291.8L394.6,296.7L391.3,298.3L387.3,291.8L383.2,282.0L379.9,272.2Z" fill="#e4e472"/><path d="M378.3,264.0L391.3,263.2L402.0,262.3L404.4,267.2L403.6,277.1L401.2,285.2L397.9,291.8L394.6,296.7L391.3,298.3L387.3,291.8L383.2,282.0L379.9,272.2Z" fill="#d6d626" fill-opacity="0.8" filter="url(#f0_5)"/><ellipse cx="394.5" cy="303.7" rx="5" ry="6" fill="#d6d626" fill-opacity="0.6" filter="url(#f1_6)"/><path d="M412.6,265.6C412.8,263.4 414.3,262.1 415.9,260.7C417.5,259.3 419.9,258.1 422.4,257.4C424.8,256.7 427.9,256.3 430.6,256.6C433.3,256.9 436.2,257.6 438.7,259.1C441.1,260.6 443.8,263.1 445.3,265.6C446.8,268.0 447.7,271.4 447.7,273.8C447.7,276.2 446.8,278.7 445.3,280.3C443.8,281.9 441.4,283.1 438.7,283.6C436.0,284.2 431.9,284.2 428.9,283.6C425.9,283.1 423.1,281.9 420.8,280.3C418.5,278.7 416.4,276.2 415.0,273.8C413.6,271.4 412.5,267.8 412.6,265.6Z" fill="#71b377"/><path d="M412.6,265.6C412.8,263.4 414.3,262.1 415.9,260.7C417.5,259.3 419.9,258.1 422.4,257.4C424.8,256.7 427.9,256.3 430.6,256.6C433.3,256.9 436.2,257.6 438.7,259.1C441.1,260.6 443.8,263.1 445.3,265.6C446.8,268.0 447.7,271.4 447.7,273.8C447.7,276.2 446.8,278.7 445.3,280.3C443.8,281.9 441.4,283.1 438.7,283.6C436.0,284.2 431.9,284.2 428.9,283.6C425.9,283.1 423.1,281.9 420.8,280.3C418.5,278.7 416.4,276.2 415.0,273.8C413.6,271.4 412.5,267.8 412.6,265.6Z" fill="#248a2e" fill-opacity="0.8" filter="url(#f0_1)"/><path d="M400.5,285.7C400.0,284.1 402.3,281.7 403.5,279.7C404.7,277.7 406.2,275.4 407.5,273.7C408.8,271.9 410.2,270.0 411.5,269.2C412.8,268.4 414.0,267.6 415.5,268.7C417.0,269.8 418.5,273.4 420.5,275.7C422.5,278.0 426.7,281.0 427.5,282.7C428.3,284.4 427.2,284.8 425.5,285.7C423.8,286.6 420.7,287.6 417.5,288.2C414.3,288.8 409.3,289.6 406.5,289.2C403.7,288.8 401.0,287.3 400.5,285.7Z" fill="#73cdde"/><path d="M400.5,285.7C400.0,284.1 402.3,281.7 403.5,279.7C404.7,277.7 406.2,275.4 407.5,273.7C408.8,271.9 410.2,270.0 411.5,269.2C412.8,268.4 414.0,267.6 415.5,268.7C417.0,269.8 418.5,273.4 420.5,275.7C422.5,278.0 426.7,281.0 427.5,282.7C428.3,284.4 427.2,284.8 425.5,285.7C423.8,286.6 420.7,287.6 417.5,288.2C414.3,288.8 409.3,289.6 406.5,289.2C403.7,288.8 401.0,287.3 400.5,285.7Z" fill="#28b2cc" fill-opacity="0.8" filter="url(#f0_2)"/><ellipse cx="406.0" cy="270.7" rx="3.5" ry="5" fill="#5a8aa8" fill-opacity="0.5" filter="url(#f1_3)"/><path d="M404.5,266.7C405.0,265.4 407.3,263.7 408.5,263.7C409.7,263.7 411.3,265.4 411.5,266.7C411.7,268.0 410.5,270.9 409.5,271.7C408.5,272.5 406.3,272.5 405.5,271.7C404.7,270.9 404.0,268.0 404.5,266.7Z" fill="#20289c" fill-opacity="0.6" filter="url(#f0_4)"/><path d="M442.5,285.7C442.9,283.2 443.8,281.5 445.5,279.7C447.2,277.9 449.7,276.0 452.5,274.7C455.3,273.4 459.2,272.0 462.5,271.7C465.8,271.4 469.5,271.3 472.5,272.7C475.5,274.1 478.8,278.2 480.7,280.0C482.6,281.8 482.9,281.7 484.0,283.3C485.1,284.9 487.0,287.6 487.3,289.8C487.6,292.0 487.0,294.1 485.6,296.3C484.2,298.5 481.8,301.2 479.1,302.9C476.4,304.5 472.6,305.8 469.3,306.2C466.0,306.6 462.8,306.1 459.5,305.3C456.2,304.5 452.4,303.0 449.7,301.2C447.0,299.4 444.4,297.3 443.2,294.7C442.0,292.1 442.1,288.2 442.5,285.7Z" fill="#676788"/><path d="M442.5,285.7C442.9,283.2 443.8,281.5 445.5,279.7C447.2,277.9 449.7,276.0 452.5,274.7C455.3,273.4 459.2,272.0 462.5,271.7C465.8,271.4 469.5,271.3 472.5,272.7C475.5,274.1 478.8,278.2 480.7,280.0C482.6,281.8 482.9,281.7 484.0,283.3C485.1,284.9 487.0,287.6 487.3,289.8C487.6,292.0 487.0,294.1 485.6,296.3C484.2,298.5 481.8,301.2 479.1,302.9C476.4,304.5 472.6,305.8 469.3,306.2C466.0,306.6 462.8,306.1 459.5,305.3C456.2,304.5 452.4,303.0 449.7,301.2C447.0,299.4 444.4,297.3 443.2,294.7C442.0,292.1 442.1,288.2 442.5,285.7Z" fill="#151548" fill-opacity="0.8" filter="url(#f0_5)"/><path d="M366.3,296.3C366.4,294.8 366.9,292.6 368.0,291.4C369.1,290.2 370.7,289.5 372.9,289.0C375.1,288.5 378.6,288.1 381.0,288.2C383.4,288.3 385.7,288.7 387.6,289.8C389.5,290.9 391.4,292.5 392.5,294.7C393.6,296.9 394.0,300.2 394.1,302.9C394.2,305.6 393.6,308.8 393.3,311.1C393.0,313.4 393.4,315.7 392.5,316.8C391.6,317.9 389.5,318.0 387.6,317.6C385.7,317.2 383.2,315.7 381.0,314.3C378.8,312.9 376.4,311.0 374.5,309.4C372.6,307.8 370.8,306.0 369.6,304.5C368.4,303.0 367.7,301.8 367.1,300.4C366.6,299.0 366.2,297.8 366.3,296.3Z" fill="#d1d1ec"/><path d="M366.3,296.3C366.4,294.8 366.9,292.6 368.0,291.4C369.1,290.2 370.7,289.5 372.9,289.0C375.1,288.5 378.6,288.1 381.0,288.2C383.4,288.3 385.7,288.7 387.6,289.8C389.5,290.9 391.4,292.5 392.5,294.7C393.6,296.9 394.0,300.2 394.1,302.9C394.2,305.6 393.6,308.8 393.3,311.1C393.0,313.4 393.4,315.7 392.5,316.8C391.6,317.9 389.5,318.0 387.6,317.6C385.7,317.2 383.2,315.7 381.0,314.3C378.8,312.9 376.4,311.0 374.5,309.4C372.6,307.8 370.8,306.0 369.6,304.5C368.4,303.0 367.7,301.8 367.1,300.4C366.6,299.0 366.2,297.8 366.3,296.3Z" fill="#b8b8e2" fill-opacity="0.8" filter="url(#f0_6)"/><path d="M393.0,290.8L402.8,287.5L415.9,286.7L428.9,284.2L440.4,281.8L446.0,283.4L441.5,291.9L429.5,297.0L415.9,298.7L402.8,301.1L393.0,301.9Z" fill="#e3b2a9"/><path d="M393.0,290.8L402.8,287.5L415.9,286.7L428.9,284.2L440.4,281.8L446.0,283.4L441.5,291.9L429.5,297.0L415.9,298.7L402.8,301.1L393.0,301.9Z" fill="#d4887a" fill-opacity="0.8" filter="url(#f0_1)"/><path d="M424.5,292.7C426.7,291.4 433.5,290.7 436.5,290.7C439.5,290.7 441.8,291.4 442.5,292.7C443.2,294.0 442.5,297.5 440.5,298.7C438.5,299.9 433.3,299.7 430.5,299.7C427.7,299.7 424.5,299.9 423.5,298.7C422.5,297.5 422.3,294.0 424.5,292.7Z" fill="#b8d8b0" fill-opacity="0.4" filter="url(#f0_2)"/><path d="M447.5,311.1C450.3,309.0 455.7,307.4 459.5,306.8C463.3,306.2 467.5,306.9 470.3,307.6C473.1,308.3 475.6,309.4 476.2,310.9C476.8,312.4 476.1,315.1 473.9,316.8C471.7,318.5 467.1,320.0 463.1,321.0C459.1,322.0 453.1,323.0 449.7,322.7C446.3,322.4 443.2,321.3 442.8,319.4C442.4,317.5 444.7,313.2 447.5,311.1Z" fill="#e0e0e3"/><path d="M447.5,311.1C450.3,309.0 455.7,307.4 459.5,306.8C463.3,306.2 467.5,306.9 470.3,307.6C473.1,308.3 475.6,309.4 476.2,310.9C476.8,312.4 476.1,315.1 473.9,316.8C471.7,318.5 467.1,320.0 463.1,321.0C459.1,322.0 453.1,323.0 449.7,322.7C446.3,322.4 443.2,321.3 442.8,319.4C442.4,317.5 444.7,313.2 447.5,311.1Z" fill="#cfcfd4" fill-opacity="0.8" filter="url(#f0_3)"/><path d="M394.6,308.1C397.0,306.8 402.8,303.1 407.7,301.6C412.6,300.1 419.2,299.7 424.0,299.1C428.8,298.5 432.6,297.6 436.6,298.0C440.6,298.4 445.1,299.6 448.1,301.2C451.1,302.8 453.8,305.6 454.6,307.8C455.4,310.0 454.9,312.4 453.0,314.3C451.1,316.2 447.6,318.0 443.2,319.2C438.8,320.4 431.2,321.1 426.8,321.7C422.4,322.3 420.3,322.1 417.0,322.7C413.7,323.2 410.2,325.3 407.2,325.0C404.2,324.7 401.2,322.4 399.0,320.9C396.8,319.4 395.1,317.9 394.1,316.0C393.2,314.1 393.2,311.0 393.3,309.7C393.4,308.4 392.2,309.5 394.6,308.1Z" fill="#8bd785"/><path d="M394.6,308.1C397.0,306.8 402.8,303.1 407.7,301.6C412.6,300.1 419.2,299.7 424.0,299.1C428.8,298.5 432.6,297.6 436.6,298.0C440.6,298.4 445.1,299.6 448.1,301.2C451.1,302.8 453.8,305.6 454.6,307.8C455.4,310.0 454.9,312.4 453.0,314.3C451.1,316.2 447.6,318.0 443.2,319.2C438.8,320.4 431.2,321.1 426.8,321.7C422.4,322.3 420.3,322.1 417.0,322.7C413.7,323.2 410.2,325.3 407.2,325.0C404.2,324.7 401.2,322.4 399.0,320.9C396.8,319.4 395.1,317.9 394.1,316.0C393.2,314.1 393.2,311.0 393.3,309.7C393.4,308.4 392.2,309.5 394.6,308.1Z" fill="#4cc244" fill-opacity="0.8" filter="url(#f0_4)"/><path d="M399.0,319.7C400.1,319.5 404.2,323.5 407.2,323.7C410.2,323.9 413.7,321.6 417.0,320.9C420.3,320.1 423.0,319.8 426.8,319.2C430.6,318.6 436.1,317.6 439.9,317.6C443.7,317.6 447.2,318.5 449.7,319.2C452.1,319.9 454.9,320.7 454.6,321.7C454.3,322.7 451.1,324.2 448.1,325.0C445.1,325.8 440.4,326.1 436.6,326.6C432.8,327.1 428.5,327.7 425.2,328.2C421.9,328.7 420.1,329.6 417.0,329.7C413.9,329.8 409.2,329.5 406.5,328.7C403.8,327.9 401.8,326.2 400.5,324.7C399.2,323.2 397.9,319.9 399.0,319.7Z" fill="#dbe6a2"/><path d="M399.0,319.7C400.1,319.5 404.2,323.5 407.2,323.7C410.2,323.9 413.7,321.6 417.0,320.9C420.3,320.1 423.0,319.8 426.8,319.2C430.6,318.6 436.1,317.6 439.9,317.6C443.7,317.6 447.2,318.5 449.7,319.2C452.1,319.9 454.9,320.7 454.6,321.7C454.3,322.7 451.1,324.2 448.1,325.0C445.1,325.8 440.4,326.1 436.6,326.6C432.8,327.1 428.5,327.7 425.2,328.2C421.9,328.7 420.1,329.6 417.0,329.7C413.9,329.8 409.2,329.5 406.5,328.7C403.8,327.9 401.8,326.2 400.5,324.7C399.2,323.2 397.9,319.9 399.0,319.7Z" fill="#c8d870" fill-opacity="0.8" filter="url(#f0_5)"/><path d="M353.7,303.6C355.5,303.1 359.4,306.3 363.5,308.5C367.6,310.7 373.9,314.0 378.3,316.7C382.7,319.4 387.2,322.4 389.7,324.8C392.1,327.2 394.4,329.9 393.0,331.3C391.6,332.7 385.6,333.3 381.5,333.0C377.4,332.7 372.3,331.6 368.5,329.7C364.7,327.8 361.2,324.5 358.6,321.5C356.0,318.5 353.6,314.7 352.8,311.7C352.0,308.7 351.9,304.1 353.7,303.6Z" fill="#6e73bf"/><path d="M353.7,303.6C355.5,303.1 359.4,306.3 363.5,308.5C367.6,310.7 373.9,314.0 378.3,316.7C382.7,319.4 387.2,322.4 389.7,324.8C392.1,327.2 394.4,329.9 393.0,331.3C391.6,332.7 385.6,333.3 381.5,333.0C377.4,332.7 372.3,331.6 368.5,329.7C364.7,327.8 361.2,324.5 358.6,321.5C356.0,318.5 353.6,314.7 352.8,311.7C352.0,308.7 351.9,304.1 353.7,303.6Z" fill="#20289c" fill-opacity="0.8" filter="url(#f0_6)"/><ellipse cx="426.5" cy="337.2" rx="11" ry="6.5" fill="#dcd4b0" fill-opacity="0.85" filter="url(#f0_1)"/><ellipse cx="426.5" cy="337.2" rx="11" ry="6.5" fill="#e0a080" fill-opacity="0.0" filter="url(#f0_2)"/><ellipse cx="456.0" cy="331.7" rx="2.5" ry="1.5" fill="#b06030" fill-opacity="0.8" filter="url(#f0_3)"/><ellipse cx="460.5" cy="330.7" rx="6" ry="3" fill="#a890c0" fill-opacity="0.2" filter="url(#f1_4)"/><path d="M465.5,261.7C468.7,259.4 470.0,260.0 467.5,262.7C465.0,265.4 453.7,275.4 450.5,277.7C447.3,280.0 446.0,279.4 448.5,276.7C451.0,274.0 462.3,264.0 465.5,261.7Z" fill="#d8a828" fill-opacity="0.55" filter="url(#f0_5)"/></g></g>
<text x="434.2" y="224.1" font-size="10" text-anchor="middle" fill="#111" stroke="#111" stroke-width="0.35">19</text>
<text x="468.0" y="229.0" font-size="10" text-anchor="middle" fill="#111" stroke="#111" stroke-width="0.35">1</text>
<text x="399.8" y="237.1" font-size="10" text-anchor="middle" fill="#111" stroke="#111" stroke-width="0.35">2</text>
<text x="388.4" y="244.8" font-size="10" text-anchor="middle" fill="#111" stroke="#111" stroke-width="0.35">17</text>
<text x="378.6" y="253.0" font-size="10" text-anchor="middle" fill="#111" stroke="#111" stroke-width="0.35">10</text>
<text x="488.9" y="250.2" font-size="10" text-anchor="middle" fill="#111" stroke="#111" stroke-width="0.35">15</text>
<text x="341.8" y="255.9" font-size="10" text-anchor="middle" fill="#111" stroke="#111" stroke-width="0.35">24</text>
<text x="407.0" y="265.2" font-size="10" text-anchor="middle" fill="#111" stroke="#111" stroke-width="0.35">21</text>
<text x="431.4" y="270.6" font-size="10" text-anchor="middle" fill="#111" stroke="#111" stroke-width="0.35">7</text>
<text x="355.7" y="271.0" font-size="10" text-anchor="middle" fill="#111" stroke="#111" stroke-width="0.35">5</text>
<text x="389.6" y="278.9" font-size="10" text-anchor="middle" fill="#111" stroke="#111" stroke-width="0.35">6</text>
<text x="414.2" y="284.4" font-size="10" text-anchor="middle" fill="#111" stroke="#111" stroke-width="0.35">11</text>
<text x="340.2" y="287.0" font-size="10" text-anchor="middle" fill="#111" stroke="#111" stroke-width="0.35">16</text>
<text x="378.8" y="289.8" font-size="10" text-anchor="middle" fill="#111" stroke="#111" stroke-width="0.35">23</text>
<text x="416.7" y="296.3" font-size="10" text-anchor="middle" fill="#111" stroke="#111" stroke-width="0.35">9</text>
<text x="433.5" y="300.0" font-size="10" text-anchor="middle" fill="#111" stroke="#111" stroke-width="0.35">20</text>
<text x="491.4" y="296.5" font-size="10" text-anchor="middle" fill="#111" stroke="#111" stroke-width="0.35">4</text>
<text x="375.3" y="304.6" font-size="10" text-anchor="middle" fill="#111" stroke="#111" stroke-width="0.35">8</text>
<text x="422.0" y="313.4" font-size="10" text-anchor="middle" fill="#111" stroke="#111" stroke-width="0.35">3</text>
<text x="460.3" y="318.4" font-size="10" text-anchor="middle" fill="#111" stroke="#111" stroke-width="0.35">14</text>
<text x="437.4" y="328.2" font-size="10" text-anchor="middle" fill="#111" stroke="#111" stroke-width="0.35">13</text>
<text x="357.2" y="334.6" font-size="10" text-anchor="middle" fill="#111" stroke="#111" stroke-width="0.35">12</text>
<text x="460.3" y="339.8" font-size="10" text-anchor="middle" fill="#111" stroke="#111" stroke-width="0.35">22</text>
<text x="428.4" y="341.7" font-size="10" text-anchor="middle" fill="#111" stroke="#111" stroke-width="0.35">18</text>
<text x="399.8" y="345.5" font-size="10" text-anchor="middle" fill="#111" stroke="#111" stroke-width="0.35">25</text>
<text x="358.4" y="341.6" font-size="6.5" text-anchor="middle" textLength="16.9" lengthAdjust="spacingAndGlyphs" fill="#333">CD4 T</text>
<rect x="82.5" y="27.0" width="169.0" height="132.7" fill="none" stroke="#000" stroke-width="1.6"/>
<text class="k" x="82.5" y="178.9" font-size="11.8" text-anchor="middle" fill="#1a1a1a">–15</text>
<text class="k" x="72.2" y="163.9" font-size="11.8" text-anchor="end" fill="#1a1a1a">–15</text>
<text class="k" x="110.67" y="178.9" font-size="11.8" text-anchor="middle" fill="#1a1a1a">–10</text>
<text class="k" x="72.2" y="141.78" font-size="11.8" text-anchor="end" fill="#1a1a1a">–10</text>
<text class="k" x="138.83" y="178.9" font-size="11.8" text-anchor="middle" fill="#1a1a1a">–5</text>
<text class="k" x="72.2" y="119.67" font-size="11.8" text-anchor="end" fill="#1a1a1a">–5</text>
<text class="k" x="167.0" y="178.9" font-size="11.8" text-anchor="middle" fill="#1a1a1a">0</text>
<text class="k" x="72.2" y="97.55" font-size="11.8" text-anchor="end" fill="#1a1a1a">0</text>
<text class="k" x="195.17" y="178.9" font-size="11.8" text-anchor="middle" fill="#1a1a1a">5</text>
<text class="k" x="72.2" y="75.43" font-size="11.8" text-anchor="end" fill="#1a1a1a">5</text>
<text class="k" x="223.33" y="178.9" font-size="11.8" text-anchor="middle" fill="#1a1a1a">10</text>
<text class="k" x="72.2" y="53.32" font-size="11.8" text-anchor="end" fill="#1a1a1a">10</text>
<text class="k" x="251.5" y="178.9" font-size="11.8" text-anchor="middle" fill="#1a1a1a">15</text>
<text class="k" x="72.2" y="31.2" font-size="11.8" text-anchor="end" fill="#1a1a1a">15</text>
<path d="M82.50,159.70v5M82.50,159.70h-5M110.67,159.70v5M82.50,137.58h-5M138.83,159.70v5M82.50,115.47h-5M167.00,159.70v5M82.50,93.35h-5M195.17,159.70v5M82.50,71.23h-5M223.33,159.70v5M82.50,49.12h-5M251.50,159.70v5M82.50,27.00h-5" stroke="#000" stroke-width="1.5" fill="none"/>
<text class="k" x="167.0" y="196.5" font-size="14" text-anchor="middle" textLength="43" lengthAdjust="spacingAndGlyphs" fill="#1a1a1a">bh<tspan dy="-1.6">_</tspan><tspan dy="1.6">SNE1</tspan></text>
<rect x="332.5" y="27.0" width="169.0" height="132.7" fill="none" stroke="#000" stroke-width="1.6"/>
<text class="k" x="332.5" y="178.9" font-size="11.8" text-anchor="middle" fill="#1a1a1a">–15</text>
<text class="k" x="322.2" y="163.9" font-size="11.8" text-anchor="end" fill="#1a1a1a">–15</text>
<text class="k" x="360.67" y="178.9" font-size="11.8" text-anchor="middle" fill="#1a1a1a">–10</text>
<text class="k" x="322.2" y="141.78" font-size="11.8" text-anchor="end" fill="#1a1a1a">–10</text>
<text class="k" x="388.83" y="178.9" font-size="11.8" text-anchor="middle" fill="#1a1a1a">–5</text>
<text class="k" x="322.2" y="119.67" font-size="11.8" text-anchor="end" fill="#1a1a1a">–5</text>
<text class="k" x="417.0" y="178.9" font-size="11.8" text-anchor="middle" fill="#1a1a1a">0</text>
<text class="k" x="322.2" y="97.55" font-size="11.8" text-anchor="end" fill="#1a1a1a">0</text>
<text class="k" x="445.17" y="178.9" font-size="11.8" text-anchor="middle" fill="#1a1a1a">5</text>
<text class="k" x="322.2" y="75.43" font-size="11.8" text-anchor="end" fill="#1a1a1a">5</text>
<text class="k" x="473.33" y="178.9" font-size="11.8" text-anchor="middle" fill="#1a1a1a">10</text>
<text class="k" x="322.2" y="53.32" font-size="11.8" text-anchor="end" fill="#1a1a1a">10</text>
<text class="k" x="501.5" y="178.9" font-size="11.8" text-anchor="middle" fill="#1a1a1a">15</text>
<text class="k" x="322.2" y="31.2" font-size="11.8" text-anchor="end" fill="#1a1a1a">15</text>
<path d="M332.50,159.70v5M332.50,159.70h-5M360.67,159.70v5M332.50,137.58h-5M388.83,159.70v5M332.50,115.47h-5M417.00,159.70v5M332.50,93.35h-5M445.17,159.70v5M332.50,71.23h-5M473.33,159.70v5M332.50,49.12h-5M501.50,159.70v5M332.50,27.00h-5" stroke="#000" stroke-width="1.5" fill="none"/>
<text class="k" x="417.0" y="196.5" font-size="14" text-anchor="middle" textLength="43" lengthAdjust="spacingAndGlyphs" fill="#1a1a1a">bh<tspan dy="-1.6">_</tspan><tspan dy="1.6">SNE1</tspan></text>
<rect x="82.5" y="213.7" width="169.0" height="132.7" fill="none" stroke="#000" stroke-width="1.6"/>
<text class="k" x="82.5" y="365.6" font-size="11.8" text-anchor="middle" fill="#1a1a1a">–15</text>
<text class="k" x="72.2" y="350.6" font-size="11.8" text-anchor="end" fill="#1a1a1a">–15</text>
<text class="k" x="110.67" y="365.6" font-size="11.8" text-anchor="middle" fill="#1a1a1a">–10</text>
<text class="k" x="72.2" y="328.48" font-size="11.8" text-anchor="end" fill="#1a1a1a">–10</text>
<text class="k" x="138.83" y="365.6" font-size="11.8" text-anchor="middle" fill="#1a1a1a">–5</text>
<text class="k" x="72.2" y="306.37" font-size="11.8" text-anchor="end" fill="#1a1a1a">–5</text>
<text class="k" x="167.0" y="365.6" font-size="11.8" text-anchor="middle" fill="#1a1a1a">0</text>
<text class="k" x="72.2" y="284.25" font-size="11.8" text-anchor="end" fill="#1a1a1a">0</text>
<text class="k" x="195.17" y="365.6" font-size="11.8" text-anchor="middle" fill="#1a1a1a">5</text>
<text class="k" x="72.2" y="262.13" font-size="11.8" text-anchor="end" fill="#1a1a1a">5</text>
<text class="k" x="223.33" y="365.6" font-size="11.8" text-anchor="middle" fill="#1a1a1a">10</text>
<text class="k" x="72.2" y="240.02" font-size="11.8" text-anchor="end" fill="#1a1a1a">10</text>
<text class="k" x="251.5" y="365.6" font-size="11.8" text-anchor="middle" fill="#1a1a1a">15</text>
<text class="k" x="72.2" y="217.9" font-size="11.8" text-anchor="end" fill="#1a1a1a">15</text>
<path d="M82.50,346.40v5M82.50,346.40h-5M110.67,346.40v5M82.50,324.28h-5M138.83,346.40v5M82.50,302.17h-5M167.00,346.40v5M82.50,280.05h-5M195.17,346.40v5M82.50,257.93h-5M223.33,346.40v5M82.50,235.82h-5M251.50,346.40v5M82.50,213.70h-5" stroke="#000" stroke-width="1.5" fill="none"/>
<text class="k" x="167.0" y="383.2" font-size="14" text-anchor="middle" textLength="43" lengthAdjust="spacingAndGlyphs" fill="#1a1a1a">bh<tspan dy="-1.6">_</tspan><tspan dy="1.6">SNE1</tspan></text>
<rect x="332.5" y="213.7" width="169.0" height="132.7" fill="none" stroke="#000" stroke-width="1.6"/>
<text class="k" x="332.5" y="365.6" font-size="11.8" text-anchor="middle" fill="#1a1a1a">–15</text>
<text class="k" x="322.2" y="350.6" font-size="11.8" text-anchor="end" fill="#1a1a1a">–15</text>
<text class="k" x="360.67" y="365.6" font-size="11.8" text-anchor="middle" fill="#1a1a1a">–10</text>
<text class="k" x="322.2" y="328.48" font-size="11.8" text-anchor="end" fill="#1a1a1a">–10</text>
<text class="k" x="388.83" y="365.6" font-size="11.8" text-anchor="middle" fill="#1a1a1a">–5</text>
<text class="k" x="322.2" y="306.37" font-size="11.8" text-anchor="end" fill="#1a1a1a">–5</text>
<text class="k" x="417.0" y="365.6" font-size="11.8" text-anchor="middle" fill="#1a1a1a">0</text>
<text class="k" x="322.2" y="284.25" font-size="11.8" text-anchor="end" fill="#1a1a1a">0</text>
<text class="k" x="445.17" y="365.6" font-size="11.8" text-anchor="middle" fill="#1a1a1a">5</text>
<text class="k" x="322.2" y="262.13" font-size="11.8" text-anchor="end" fill="#1a1a1a">5</text>
<text class="k" x="473.33" y="365.6" font-size="11.8" text-anchor="middle" fill="#1a1a1a">10</text>
<text class="k" x="322.2" y="240.02" font-size="11.8" text-anchor="end" fill="#1a1a1a">10</text>
<text class="k" x="501.5" y="365.6" font-size="11.8" text-anchor="middle" fill="#1a1a1a">15</text>
<text class="k" x="322.2" y="217.9" font-size="11.8" text-anchor="end" fill="#1a1a1a">15</text>
<path d="M332.50,346.40v5M332.50,346.40h-5M360.67,346.40v5M332.50,324.28h-5M388.83,346.40v5M332.50,302.17h-5M417.00,346.40v5M332.50,280.05h-5M445.17,346.40v5M332.50,257.93h-5M473.33,346.40v5M332.50,235.82h-5M501.50,346.40v5M332.50,213.70h-5" stroke="#000" stroke-width="1.5" fill="none"/>
<text class="k" x="417.0" y="383.2" font-size="14" text-anchor="middle" textLength="43" lengthAdjust="spacingAndGlyphs" fill="#1a1a1a">bh<tspan dy="-1.6">_</tspan><tspan dy="1.6">SNE1</tspan></text>
<text class="k2" transform="translate(21.1,92.8) rotate(-90)" x="0" y="0" font-size="14" text-anchor="middle" textLength="42" lengthAdjust="spacingAndGlyphs" fill="#1a1a1a">Baseline</text>
<text class="k2" transform="translate(41.8,92.2) rotate(-90)" x="0" y="0" font-size="14" text-anchor="middle" textLength="41.9" lengthAdjust="spacingAndGlyphs" fill="#1a1a1a">bh-SNE2</text>
<text class="k2" transform="translate(21.6,279.4) rotate(-90)" x="0" y="0" font-size="14" text-anchor="middle" textLength="69.6" lengthAdjust="spacingAndGlyphs" fill="#1a1a1a">Posttreatment</text>
<text class="k2" transform="translate(41.6,278.8) rotate(-90)" x="0" y="0" font-size="14" text-anchor="middle" textLength="41.5" lengthAdjust="spacingAndGlyphs" fill="#1a1a1a">bh-SNE2</text>
<text class="k" x="187.9" y="409.4" font-size="10.8" textLength="58.6" lengthAdjust="spacingAndGlyphs" fill="#1a1a1a">CD8 T cells:</text>
<text class="k" x="187.9" y="426.2" font-size="10.8" textLength="58.6" lengthAdjust="spacingAndGlyphs" fill="#1a1a1a">CD4 T cells:</text>
<circle cx="255.2" cy="404.8" r="2.3" fill="#e0202a"/>
<text class="k" x="265.4" y="409.4" font-size="10.8" fill="#1a1a1a">2</text>
<circle cx="284.4" cy="404.8" r="2.3" fill="#e0388e"/>
<text class="k" x="295.0" y="409.4" font-size="10.8" fill="#1a1a1a">17</text>
<circle cx="320.4" cy="404.8" r="2.3" fill="#2c3422"/>
<text class="k" x="331.2" y="409.4" font-size="10.8" fill="#1a1a1a">19</text>
<circle cx="354.0" cy="404.8" r="2.3" fill="#b49a2e"/>
<text class="k" x="363.8" y="409.4" font-size="10.8" fill="#1a1a1a">22</text>
<circle cx="255.2" cy="423.8" r="2.3" fill="#c25cc0"/>
<text class="k" x="265.4" y="426.2" font-size="10.8" fill="#1a1a1a">5</text>
<circle cx="284.0" cy="423.8" r="2.3" fill="#1a2898"/>
<text class="k" x="295.0" y="426.2" font-size="10.8" fill="#1a1a1a">12</text>
<circle cx="319.8" cy="423.8" r="2.3" fill="#9a3aa0"/>
<text class="k" x="331.2" y="426.2" font-size="10.8" fill="#1a1a1a">16</text>
<circle cx="353.8" cy="423.8" r="2.3" fill="#a48cbc"/>
<text class="k" x="363.8" y="426.2" font-size="10.8" fill="#1a1a1a">25</text>
<rect x="150" y="439.6" width="282.2" height="34.4" fill="none" stroke="#000" stroke-width="1.3"/>
<circle cx="159.2" cy="445.4" r="2.4" fill="#3a45c0"/>
<text class="k" x="169.0" y="450.5" font-size="10.6" fill="#1a1a1a">1</text>
<circle cx="159.2" cy="456.7" r="2.4" fill="#e0202a"/>
<text class="k" x="169.0" y="461.2" font-size="10.6" fill="#1a1a1a">2</text>
<circle cx="159.2" cy="468.1" r="2.4" fill="#3cbf3c"/>
<text class="k" x="169.0" y="472.1" font-size="10.6" fill="#1a1a1a">3</text>
<circle cx="186.6" cy="445.4" r="2.4" fill="#12123e"/>
<text class="k" x="196.4" y="450.5" font-size="10.6" fill="#1a1a1a">4</text>
<circle cx="186.6" cy="456.7" r="2.4" fill="#c25cc0"/>
<text class="k" x="196.4" y="461.2" font-size="10.6" fill="#1a1a1a">5</text>
<circle cx="186.6" cy="468.1" r="2.4" fill="#dcdc2c"/>
<text class="k" x="196.4" y="472.1" font-size="10.6" fill="#1a1a1a">6</text>
<circle cx="213.8" cy="445.4" r="2.4" fill="#1c7a2c"/>
<text class="k" x="223.6" y="450.5" font-size="10.6" fill="#1a1a1a">7</text>
<circle cx="213.8" cy="456.7" r="2.4" fill="#b8b8e6"/>
<text class="k" x="223.6" y="461.2" font-size="10.6" fill="#1a1a1a">8</text>
<circle cx="213.8" cy="468.1" r="2.4" fill="#cf7c68"/>
<text class="k" x="223.6" y="472.1" font-size="10.6" fill="#1a1a1a">9</text>
<circle cx="241.3" cy="445.4" r="2.4" fill="#44cfe0"/>
<text class="k" x="251.1" y="450.5" font-size="10.6" fill="#1a1a1a">10</text>
<circle cx="241.3" cy="456.7" r="2.4" fill="#22b0d0"/>
<text class="k" x="251.1" y="461.2" font-size="10.6" fill="#1a1a1a">11</text>
<circle cx="241.3" cy="468.1" r="2.4" fill="#1a2898"/>
<text class="k" x="251.1" y="472.1" font-size="10.6" fill="#1a1a1a">12</text>
<circle cx="273.7" cy="445.4" r="2.4" fill="#c4d460"/>
<text class="k" x="283.5" y="450.5" font-size="10.6" fill="#1a1a1a">13</text>
<circle cx="273.7" cy="456.7" r="2.4" fill="#d2d2d2"/>
<text class="k" x="283.5" y="461.2" font-size="10.6" fill="#1a1a1a">14</text>
<circle cx="273.7" cy="468.1" r="2.4" fill="#c44cc0"/>
<text class="k" x="283.5" y="472.1" font-size="10.6" fill="#1a1a1a">15</text>
<circle cx="306.3" cy="445.4" r="2.4" fill="#9a3aa0"/>
<text class="k" x="316.1" y="450.5" font-size="10.6" fill="#1a1a1a">16</text>
<circle cx="306.3" cy="456.7" r="2.4" fill="#e0388e"/>
<text class="k" x="316.1" y="461.2" font-size="10.6" fill="#1a1a1a">17</text>
<circle cx="306.3" cy="468.1" r="2.4" fill="#dcd8b4"/>
<text class="k" x="316.1" y="472.1" font-size="10.6" fill="#1a1a1a">18</text>
<circle cx="338.7" cy="445.4" r="2.4" fill="#2c3422"/>
<text class="k" x="348.5" y="450.5" font-size="10.6" fill="#1a1a1a">19</text>
<circle cx="338.7" cy="456.7" r="2.4" fill="#b8d8b0"/>
<text class="k" x="348.5" y="461.2" font-size="10.6" fill="#1a1a1a">20</text>
<circle cx="338.7" cy="468.1" r="2.4" fill="#d8a828"/>
<text class="k" x="348.5" y="472.1" font-size="10.6" fill="#1a1a1a">21</text>
<circle cx="370.8" cy="445.4" r="2.4" fill="#b49a2e"/>
<text class="k" x="380.6" y="450.5" font-size="10.6" fill="#1a1a1a">22</text>
<circle cx="370.8" cy="456.7" r="2.4" fill="#a4d2da"/>
<text class="k" x="380.6" y="461.2" font-size="10.6" fill="#1a1a1a">23</text>
<circle cx="370.8" cy="468.1" r="2.4" fill="#d4d4d4"/>
<text class="k" x="380.6" y="472.1" font-size="10.6" fill="#1a1a1a">24</text>
<circle cx="403.4" cy="445.4" r="2.4" fill="#a48cbc"/>
<text class="k" x="413.2" y="450.5" font-size="10.6" fill="#1a1a1a">25</text>
<text x="11.9" y="496.1" font-size="17" font-weight="bold" textLength="10.4" lengthAdjust="spacingAndGlyphs" fill="#000">B</text>
<text class="k" x="92.8" y="513" font-size="12.7" textLength="45" lengthAdjust="spacingAndGlyphs" fill="#1a1a1a">Cluster</text>
<rect x="92.8" y="514.7" width="45" height="0.9" fill="#222"/>
<rect x="142.60" y="522.30" width="16.41" height="16.06" fill="#c7e6f6"/>
<rect x="159.01" y="522.30" width="16.41" height="16.06" fill="#b5dbf1"/>
<rect x="175.41" y="522.30" width="16.41" height="16.06" fill="#eef8f7"/>
<rect x="191.82" y="522.30" width="16.41" height="16.06" fill="#fcfce4"/>
<rect x="208.23" y="522.30" width="16.41" height="16.06" fill="#c7e6f6"/>
<rect x="224.64" y="522.30" width="16.41" height="16.06" fill="#c7e6f6"/>
<rect x="241.04" y="522.30" width="16.41" height="16.06" fill="#fff6b2"/>
<rect x="257.45" y="522.30" width="16.41" height="16.06" fill="#b5dbf1"/>
<rect x="273.86" y="522.30" width="16.41" height="16.06" fill="#5f95cc"/>
<rect x="290.26" y="522.30" width="16.41" height="16.06" fill="#cfeaf8"/>
<rect x="306.67" y="522.30" width="16.41" height="16.06" fill="#a0ceea"/>
<rect x="323.08" y="522.30" width="16.41" height="16.06" fill="#e6f6fd"/>
<rect x="339.49" y="522.30" width="16.41" height="16.06" fill="#8cc0e4"/>
<rect x="355.89" y="522.30" width="16.41" height="16.06" fill="#b5dbf1"/>
<rect x="142.60" y="538.36" width="16.41" height="16.06" fill="#fdd074"/>
<rect x="159.01" y="538.36" width="16.41" height="16.06" fill="#8cc0e4"/>
<rect x="175.41" y="538.36" width="16.41" height="16.06" fill="#8cc0e4"/>
<rect x="191.82" y="538.36" width="16.41" height="16.06" fill="#cfeaf8"/>
<rect x="208.23" y="538.36" width="16.41" height="16.06" fill="#abd4ee"/>
<rect x="224.64" y="538.36" width="16.41" height="16.06" fill="#fdd074"/>
<rect x="241.04" y="538.36" width="16.41" height="16.06" fill="#cfeaf8"/>
<rect x="257.45" y="538.36" width="16.41" height="16.06" fill="#abd4ee"/>
<rect x="273.86" y="538.36" width="16.41" height="16.06" fill="#6fa4d5"/>
<rect x="290.26" y="538.36" width="16.41" height="16.06" fill="#8cc0e4"/>
<rect x="306.67" y="538.36" width="16.41" height="16.06" fill="#abd4ee"/>
<rect x="323.08" y="538.36" width="16.41" height="16.06" fill="#96c7e7"/>
<rect x="339.49" y="538.36" width="16.41" height="16.06" fill="#71a6d6"/>
<rect x="355.89" y="538.36" width="16.41" height="16.06" fill="#8cc0e4"/>
<rect x="142.60" y="554.43" width="16.41" height="16.06" fill="#96c7e7"/>
<rect x="159.01" y="554.43" width="16.41" height="16.06" fill="#96c7e7"/>
<rect x="175.41" y="554.43" width="16.41" height="16.06" fill="#d6eef9"/>
<rect x="191.82" y="554.43" width="16.41" height="16.06" fill="#b5dbf1"/>
<rect x="208.23" y="554.43" width="16.41" height="16.06" fill="#96c7e7"/>
<rect x="224.64" y="554.43" width="16.41" height="16.06" fill="#8cc0e4"/>
<rect x="241.04" y="554.43" width="16.41" height="16.06" fill="#8cc0e4"/>
<rect x="257.45" y="554.43" width="16.41" height="16.06" fill="#8cc0e4"/>
<rect x="273.86" y="554.43" width="16.41" height="16.06" fill="#6fa4d5"/>
<rect x="290.26" y="554.43" width="16.41" height="16.06" fill="#83b7df"/>
<rect x="306.67" y="554.43" width="16.41" height="16.06" fill="#8cc0e4"/>
<rect x="323.08" y="554.43" width="16.41" height="16.06" fill="#96c7e7"/>
<rect x="339.49" y="554.43" width="16.41" height="16.06" fill="#83b7df"/>
<rect x="355.89" y="554.43" width="16.41" height="16.06" fill="#8cc0e4"/>
<rect x="142.60" y="570.49" width="16.41" height="16.06" fill="#96c7e7"/>
<rect x="159.01" y="570.49" width="16.41" height="16.06" fill="#d6eef9"/>
<rect x="175.41" y="570.49" width="16.41" height="16.06" fill="#eaf7fa"/>
<rect x="191.82" y="570.49" width="16.41" height="16.06" fill="#bfe2f4"/>
<rect x="208.23" y="570.49" width="16.41" height="16.06" fill="#96c7e7"/>
<rect x="224.64" y="570.49" width="16.41" height="16.06" fill="#96c7e7"/>
<rect x="241.04" y="570.49" width="16.41" height="16.06" fill="#96c7e7"/>
<rect x="257.45" y="570.49" width="16.41" height="16.06" fill="#d6eef9"/>
<rect x="273.86" y="570.49" width="16.41" height="16.06" fill="#669cd0"/>
<rect x="290.26" y="570.49" width="16.41" height="16.06" fill="#83b7df"/>
<rect x="306.67" y="570.49" width="16.41" height="16.06" fill="#b5dbf1"/>
<rect x="323.08" y="570.49" width="16.41" height="16.06" fill="#fdfbda"/>
<rect x="339.49" y="570.49" width="16.41" height="16.06" fill="#83b7df"/>
<rect x="355.89" y="570.49" width="16.41" height="16.06" fill="#8cc0e4"/>
<rect x="142.60" y="586.56" width="16.41" height="16.06" fill="#96c7e7"/>
<rect x="159.01" y="586.56" width="16.41" height="16.06" fill="#7aafda"/>
<rect x="175.41" y="586.56" width="16.41" height="16.06" fill="#bfe2f4"/>
<rect x="191.82" y="586.56" width="16.41" height="16.06" fill="#def2fb"/>
<rect x="208.23" y="586.56" width="16.41" height="16.06" fill="#abd4ee"/>
<rect x="224.64" y="586.56" width="16.41" height="16.06" fill="#fbb25c"/>
<rect x="241.04" y="586.56" width="16.41" height="16.06" fill="#fffabc"/>
<rect x="257.45" y="586.56" width="16.41" height="16.06" fill="#8cc0e4"/>
<rect x="273.86" y="586.56" width="16.41" height="16.06" fill="#83b7df"/>
<rect x="290.26" y="586.56" width="16.41" height="16.06" fill="#feed9e"/>
<rect x="306.67" y="586.56" width="16.41" height="16.06" fill="#bfe2f4"/>
<rect x="323.08" y="586.56" width="16.41" height="16.06" fill="#96c7e7"/>
<rect x="339.49" y="586.56" width="16.41" height="16.06" fill="#7aafda"/>
<rect x="355.89" y="586.56" width="16.41" height="16.06" fill="#96c7e7"/>
<rect x="142.60" y="602.62" width="16.41" height="16.06" fill="#def2fb"/>
<rect x="159.01" y="602.62" width="16.41" height="16.06" fill="#a0ceea"/>
<rect x="175.41" y="602.62" width="16.41" height="16.06" fill="#83b7df"/>
<rect x="191.82" y="602.62" width="16.41" height="16.06" fill="#bfe2f4"/>
<rect x="208.23" y="602.62" width="16.41" height="16.06" fill="#def2fb"/>
<rect x="224.64" y="602.62" width="16.41" height="16.06" fill="#96c7e7"/>
<rect x="241.04" y="602.62" width="16.41" height="16.06" fill="#c7e6f6"/>
<rect x="257.45" y="602.62" width="16.41" height="16.06" fill="#83b7df"/>
<rect x="273.86" y="602.62" width="16.41" height="16.06" fill="#669cd0"/>
<rect x="290.26" y="602.62" width="16.41" height="16.06" fill="#b5dbf1"/>
<rect x="306.67" y="602.62" width="16.41" height="16.06" fill="#96c7e7"/>
<rect x="323.08" y="602.62" width="16.41" height="16.06" fill="#8cc0e4"/>
<rect x="339.49" y="602.62" width="16.41" height="16.06" fill="#7aafda"/>
<rect x="355.89" y="602.62" width="16.41" height="16.06" fill="#83b7df"/>
<rect x="142.60" y="618.68" width="16.41" height="16.06" fill="#fffabc"/>
<rect x="159.01" y="618.68" width="16.41" height="16.06" fill="#c7e6f6"/>
<rect x="175.41" y="618.68" width="16.41" height="16.06" fill="#eaf7fa"/>
<rect x="191.82" y="618.68" width="16.41" height="16.06" fill="#bfe2f4"/>
<rect x="208.23" y="618.68" width="16.41" height="16.06" fill="#a0ceea"/>
<rect x="224.64" y="618.68" width="16.41" height="16.06" fill="#a0ceea"/>
<rect x="241.04" y="618.68" width="16.41" height="16.06" fill="#96c7e7"/>
<rect x="257.45" y="618.68" width="16.41" height="16.06" fill="#bfe2f4"/>
<rect x="273.86" y="618.68" width="16.41" height="16.06" fill="#5e94cb"/>
<rect x="290.26" y="618.68" width="16.41" height="16.06" fill="#83b7df"/>
<rect x="306.67" y="618.68" width="16.41" height="16.06" fill="#96c7e7"/>
<rect x="323.08" y="618.68" width="16.41" height="16.06" fill="#fdfbd0"/>
<rect x="339.49" y="618.68" width="16.41" height="16.06" fill="#83b7df"/>
<rect x="355.89" y="618.68" width="16.41" height="16.06" fill="#a0ceea"/>
<rect x="142.60" y="634.75" width="16.41" height="16.06" fill="#a0ceea"/>
<rect x="159.01" y="634.75" width="16.41" height="16.06" fill="#8cc0e4"/>
<rect x="175.41" y="634.75" width="16.41" height="16.06" fill="#71a6d6"/>
<rect x="191.82" y="634.75" width="16.41" height="16.06" fill="#96c7e7"/>
<rect x="208.23" y="634.75" width="16.41" height="16.06" fill="#71a6d6"/>
<rect x="224.64" y="634.75" width="16.41" height="16.06" fill="#83b7df"/>
<rect x="241.04" y="634.75" width="16.41" height="16.06" fill="#71a6d6"/>
<rect x="257.45" y="634.75" width="16.41" height="16.06" fill="#7aafda"/>
<rect x="273.86" y="634.75" width="16.41" height="16.06" fill="#669cd0"/>
<rect x="290.26" y="634.75" width="16.41" height="16.06" fill="#7aafda"/>
<rect x="306.67" y="634.75" width="16.41" height="16.06" fill="#8cc0e4"/>
<rect x="323.08" y="634.75" width="16.41" height="16.06" fill="#7aafda"/>
<rect x="339.49" y="634.75" width="16.41" height="16.06" fill="#7aafda"/>
<rect x="355.89" y="634.75" width="16.41" height="16.06" fill="#71a6d6"/>
<rect x="142.60" y="650.81" width="16.41" height="16.06" fill="#a0ceea"/>
<rect x="159.01" y="650.81" width="16.41" height="16.06" fill="#abd4ee"/>
<rect x="175.41" y="650.81" width="16.41" height="16.06" fill="#7aafda"/>
<rect x="191.82" y="650.81" width="16.41" height="16.06" fill="#96c7e7"/>
<rect x="208.23" y="650.81" width="16.41" height="16.06" fill="#7aafda"/>
<rect x="224.64" y="650.81" width="16.41" height="16.06" fill="#8cc0e4"/>
<rect x="241.04" y="650.81" width="16.41" height="16.06" fill="#71a6d6"/>
<rect x="257.45" y="650.81" width="16.41" height="16.06" fill="#83b7df"/>
<rect x="273.86" y="650.81" width="16.41" height="16.06" fill="#669cd0"/>
<rect x="290.26" y="650.81" width="16.41" height="16.06" fill="#83b7df"/>
<rect x="306.67" y="650.81" width="16.41" height="16.06" fill="#abd4ee"/>
<rect x="323.08" y="650.81" width="16.41" height="16.06" fill="#eef8f7"/>
<rect x="339.49" y="650.81" width="16.41" height="16.06" fill="#7aafda"/>
<rect x="355.89" y="650.81" width="16.41" height="16.06" fill="#7aafda"/>
<rect x="142.60" y="666.88" width="16.41" height="16.06" fill="#fcfce4"/>
<rect x="159.01" y="666.88" width="16.41" height="16.06" fill="#bfe2f4"/>
<rect x="175.41" y="666.88" width="16.41" height="16.06" fill="#cfeaf8"/>
<rect x="191.82" y="666.88" width="16.41" height="16.06" fill="#eef8f7"/>
<rect x="208.23" y="666.88" width="16.41" height="16.06" fill="#eef8f7"/>
<rect x="224.64" y="666.88" width="16.41" height="16.06" fill="#d6eef9"/>
<rect x="241.04" y="666.88" width="16.41" height="16.06" fill="#eef8f7"/>
<rect x="257.45" y="666.88" width="16.41" height="16.06" fill="#8cc0e4"/>
<rect x="273.86" y="666.88" width="16.41" height="16.06" fill="#6fa4d5"/>
<rect x="290.26" y="666.88" width="16.41" height="16.06" fill="#b5dbf1"/>
<rect x="306.67" y="666.88" width="16.41" height="16.06" fill="#cfeaf8"/>
<rect x="323.08" y="666.88" width="16.41" height="16.06" fill="#fffabc"/>
<rect x="339.49" y="666.88" width="16.41" height="16.06" fill="#8cc0e4"/>
<rect x="355.89" y="666.88" width="16.41" height="16.06" fill="#a0ceea"/>
<rect x="142.60" y="682.94" width="16.41" height="16.06" fill="#fff1a8"/>
<rect x="159.01" y="682.94" width="16.41" height="16.06" fill="#bfe2f4"/>
<rect x="175.41" y="682.94" width="16.41" height="16.06" fill="#7aafda"/>
<rect x="191.82" y="682.94" width="16.41" height="16.06" fill="#8cc0e4"/>
<rect x="208.23" y="682.94" width="16.41" height="16.06" fill="#8cc0e4"/>
<rect x="224.64" y="682.94" width="16.41" height="16.06" fill="#83b7df"/>
<rect x="241.04" y="682.94" width="16.41" height="16.06" fill="#71a6d6"/>
<rect x="257.45" y="682.94" width="16.41" height="16.06" fill="#83b7df"/>
<rect x="273.86" y="682.94" width="16.41" height="16.06" fill="#669cd0"/>
<rect x="290.26" y="682.94" width="16.41" height="16.06" fill="#7aafda"/>
<rect x="306.67" y="682.94" width="16.41" height="16.06" fill="#a0ceea"/>
<rect x="323.08" y="682.94" width="16.41" height="16.06" fill="#eaf7fa"/>
<rect x="339.49" y="682.94" width="16.41" height="16.06" fill="#7aafda"/>
<rect x="355.89" y="682.94" width="16.41" height="16.06" fill="#7aafda"/>
<rect x="142.60" y="699.00" width="16.41" height="16.06" fill="#96c7e7"/>
<rect x="159.01" y="699.00" width="16.41" height="16.06" fill="#83b7df"/>
<rect x="175.41" y="699.00" width="16.41" height="16.06" fill="#83b7df"/>
<rect x="191.82" y="699.00" width="16.41" height="16.06" fill="#a0ceea"/>
<rect x="208.23" y="699.00" width="16.41" height="16.06" fill="#def2fb"/>
<rect x="224.64" y="699.00" width="16.41" height="16.06" fill="#faa251"/>
<rect x="241.04" y="699.00" width="16.41" height="16.06" fill="#b5dbf1"/>
<rect x="257.45" y="699.00" width="16.41" height="16.06" fill="#71a6d6"/>
<rect x="273.86" y="699.00" width="16.41" height="16.06" fill="#6fa4d5"/>
<rect x="290.26" y="699.00" width="16.41" height="16.06" fill="#feed9e"/>
<rect x="306.67" y="699.00" width="16.41" height="16.06" fill="#83b7df"/>
<rect x="323.08" y="699.00" width="16.41" height="16.06" fill="#83b7df"/>
<rect x="339.49" y="699.00" width="16.41" height="16.06" fill="#689ed1"/>
<rect x="355.89" y="699.00" width="16.41" height="16.06" fill="#83b7df"/>
<rect x="142.60" y="715.07" width="16.41" height="16.06" fill="#def2fb"/>
<rect x="159.01" y="715.07" width="16.41" height="16.06" fill="#a0ceea"/>
<rect x="175.41" y="715.07" width="16.41" height="16.06" fill="#96c7e7"/>
<rect x="191.82" y="715.07" width="16.41" height="16.06" fill="#a0ceea"/>
<rect x="208.23" y="715.07" width="16.41" height="16.06" fill="#96c7e7"/>
<rect x="224.64" y="715.07" width="16.41" height="16.06" fill="#96c7e7"/>
<rect x="241.04" y="715.07" width="16.41" height="16.06" fill="#7aafda"/>
<rect x="257.45" y="715.07" width="16.41" height="16.06" fill="#def2fb"/>
<rect x="273.86" y="715.07" width="16.41" height="16.06" fill="#669cd0"/>
<rect x="290.26" y="715.07" width="16.41" height="16.06" fill="#83b7df"/>
<rect x="306.67" y="715.07" width="16.41" height="16.06" fill="#8cc0e4"/>
<rect x="323.08" y="715.07" width="16.41" height="16.06" fill="#7aafda"/>
<rect x="339.49" y="715.07" width="16.41" height="16.06" fill="#7aafda"/>
<rect x="355.89" y="715.07" width="16.41" height="16.06" fill="#83b7df"/>
<rect x="142.60" y="731.13" width="16.41" height="16.06" fill="#a0ceea"/>
<rect x="159.01" y="731.13" width="16.41" height="16.06" fill="#bfe2f4"/>
<rect x="175.41" y="731.13" width="16.41" height="16.06" fill="#d6eef9"/>
<rect x="191.82" y="731.13" width="16.41" height="16.06" fill="#eaf7fa"/>
<rect x="208.23" y="731.13" width="16.41" height="16.06" fill="#e6f6fd"/>
<rect x="224.64" y="731.13" width="16.41" height="16.06" fill="#e6f6fd"/>
<rect x="241.04" y="731.13" width="16.41" height="16.06" fill="#def2fb"/>
<rect x="257.45" y="731.13" width="16.41" height="16.06" fill="#fdfbd0"/>
<rect x="273.86" y="731.13" width="16.41" height="16.06" fill="#6fa4d5"/>
<rect x="290.26" y="731.13" width="16.41" height="16.06" fill="#96c7e7"/>
<rect x="306.67" y="731.13" width="16.41" height="16.06" fill="#96c7e7"/>
<rect x="323.08" y="731.13" width="16.41" height="16.06" fill="#96c7e7"/>
<rect x="339.49" y="731.13" width="16.41" height="16.06" fill="#83b7df"/>
<rect x="355.89" y="731.13" width="16.41" height="16.06" fill="#8cc0e4"/>
<rect x="142.60" y="747.20" width="16.41" height="16.06" fill="#96c7e7"/>
<rect x="159.01" y="747.20" width="16.41" height="16.06" fill="#7aafda"/>
<rect x="175.41" y="747.20" width="16.41" height="16.06" fill="#96c7e7"/>
<rect x="191.82" y="747.20" width="16.41" height="16.06" fill="#96c7e7"/>
<rect x="208.23" y="747.20" width="16.41" height="16.06" fill="#96c7e7"/>
<rect x="224.64" y="747.20" width="16.41" height="16.06" fill="#83b7df"/>
<rect x="241.04" y="747.20" width="16.41" height="16.06" fill="#83b7df"/>
<rect x="257.45" y="747.20" width="16.41" height="16.06" fill="#8cc0e4"/>
<rect x="273.86" y="747.20" width="16.41" height="16.06" fill="#6fa4d5"/>
<rect x="290.26" y="747.20" width="16.41" height="16.06" fill="#83b7df"/>
<rect x="306.67" y="747.20" width="16.41" height="16.06" fill="#83b7df"/>
<rect x="323.08" y="747.20" width="16.41" height="16.06" fill="#83b7df"/>
<rect x="339.49" y="747.20" width="16.41" height="16.06" fill="#fedd83"/>
<rect x="355.89" y="747.20" width="16.41" height="16.06" fill="#8cc0e4"/>
<rect x="142.60" y="763.26" width="16.41" height="16.06" fill="#96c7e7"/>
<rect x="159.01" y="763.26" width="16.41" height="16.06" fill="#8cc0e4"/>
<rect x="175.41" y="763.26" width="16.41" height="16.06" fill="#c7e6f6"/>
<rect x="191.82" y="763.26" width="16.41" height="16.06" fill="#d6eef9"/>
<rect x="208.23" y="763.26" width="16.41" height="16.06" fill="#eef8f7"/>
<rect x="224.64" y="763.26" width="16.41" height="16.06" fill="#fed67c"/>
<rect x="241.04" y="763.26" width="16.41" height="16.06" fill="#fdfbda"/>
<rect x="257.45" y="763.26" width="16.41" height="16.06" fill="#fdfbda"/>
<rect x="273.86" y="763.26" width="16.41" height="16.06" fill="#6fa4d5"/>
<rect x="290.26" y="763.26" width="16.41" height="16.06" fill="#fff1a8"/>
<rect x="306.67" y="763.26" width="16.41" height="16.06" fill="#96c7e7"/>
<rect x="323.08" y="763.26" width="16.41" height="16.06" fill="#8cc0e4"/>
<rect x="339.49" y="763.26" width="16.41" height="16.06" fill="#83b7df"/>
<rect x="355.89" y="763.26" width="16.41" height="16.06" fill="#96c7e7"/>
<rect x="142.60" y="779.32" width="16.41" height="16.06" fill="#fee48a"/>
<rect x="159.01" y="779.32" width="16.41" height="16.06" fill="#96c7e7"/>
<rect x="175.41" y="779.32" width="16.41" height="16.06" fill="#eef8f7"/>
<rect x="191.82" y="779.32" width="16.41" height="16.06" fill="#def2fb"/>
<rect x="208.23" y="779.32" width="16.41" height="16.06" fill="#bfe2f4"/>
<rect x="224.64" y="779.32" width="16.41" height="16.06" fill="#fee48a"/>
<rect x="241.04" y="779.32" width="16.41" height="16.06" fill="#fff1a8"/>
<rect x="257.45" y="779.32" width="16.41" height="16.06" fill="#96c7e7"/>
<rect x="273.86" y="779.32" width="16.41" height="16.06" fill="#5e94cb"/>
<rect x="290.26" y="779.32" width="16.41" height="16.06" fill="#83b7df"/>
<rect x="306.67" y="779.32" width="16.41" height="16.06" fill="#eaf7fa"/>
<rect x="323.08" y="779.32" width="16.41" height="16.06" fill="#8cc0e4"/>
<rect x="339.49" y="779.32" width="16.41" height="16.06" fill="#83b7df"/>
<rect x="355.89" y="779.32" width="16.41" height="16.06" fill="#8cc0e4"/>
<rect x="142.60" y="795.39" width="16.41" height="16.06" fill="#abd4ee"/>
<rect x="159.01" y="795.39" width="16.41" height="16.06" fill="#abd4ee"/>
<rect x="175.41" y="795.39" width="16.41" height="16.06" fill="#abd4ee"/>
<rect x="191.82" y="795.39" width="16.41" height="16.06" fill="#cfeaf8"/>
<rect x="208.23" y="795.39" width="16.41" height="16.06" fill="#abd4ee"/>
<rect x="224.64" y="795.39" width="16.41" height="16.06" fill="#fcba61"/>
<rect x="241.04" y="795.39" width="16.41" height="16.06" fill="#c7e6f6"/>
<rect x="257.45" y="795.39" width="16.41" height="16.06" fill="#96c7e7"/>
<rect x="273.86" y="795.39" width="16.41" height="16.06" fill="#669cd0"/>
<rect x="290.26" y="795.39" width="16.41" height="16.06" fill="#8cc0e4"/>
<rect x="306.67" y="795.39" width="16.41" height="16.06" fill="#bfe2f4"/>
<rect x="323.08" y="795.39" width="16.41" height="16.06" fill="#96c7e7"/>
<rect x="339.49" y="795.39" width="16.41" height="16.06" fill="#71a6d6"/>
<rect x="355.89" y="795.39" width="16.41" height="16.06" fill="#8cc0e4"/>
<rect x="142.60" y="811.45" width="16.41" height="16.06" fill="#ec5935"/>
<rect x="159.01" y="811.45" width="16.41" height="16.06" fill="#abd4ee"/>
<rect x="175.41" y="811.45" width="16.41" height="16.06" fill="#83b7df"/>
<rect x="191.82" y="811.45" width="16.41" height="16.06" fill="#a0ceea"/>
<rect x="208.23" y="811.45" width="16.41" height="16.06" fill="#eef8f7"/>
<rect x="224.64" y="811.45" width="16.41" height="16.06" fill="#fdc96d"/>
<rect x="241.04" y="811.45" width="16.41" height="16.06" fill="#abd4ee"/>
<rect x="257.45" y="811.45" width="16.41" height="16.06" fill="#71a6d6"/>
<rect x="273.86" y="811.45" width="16.41" height="16.06" fill="#6fa4d5"/>
<rect x="290.26" y="811.45" width="16.41" height="16.06" fill="#8cc0e4"/>
<rect x="306.67" y="811.45" width="16.41" height="16.06" fill="#abd4ee"/>
<rect x="323.08" y="811.45" width="16.41" height="16.06" fill="#a0ceea"/>
<rect x="339.49" y="811.45" width="16.41" height="16.06" fill="#689ed1"/>
<rect x="355.89" y="811.45" width="16.41" height="16.06" fill="#8cc0e4"/>
<rect x="142.60" y="827.52" width="16.41" height="16.06" fill="#bfe2f4"/>
<rect x="159.01" y="827.52" width="16.41" height="16.06" fill="#d6eef9"/>
<rect x="175.41" y="827.52" width="16.41" height="16.06" fill="#83b7df"/>
<rect x="191.82" y="827.52" width="16.41" height="16.06" fill="#96c7e7"/>
<rect x="208.23" y="827.52" width="16.41" height="16.06" fill="#7aafda"/>
<rect x="224.64" y="827.52" width="16.41" height="16.06" fill="#8cc0e4"/>
<rect x="241.04" y="827.52" width="16.41" height="16.06" fill="#7aafda"/>
<rect x="257.45" y="827.52" width="16.41" height="16.06" fill="#fdfbda"/>
<rect x="273.86" y="827.52" width="16.41" height="16.06" fill="#669cd0"/>
<rect x="290.26" y="827.52" width="16.41" height="16.06" fill="#83b7df"/>
<rect x="306.67" y="827.52" width="16.41" height="16.06" fill="#d6eef9"/>
<rect x="323.08" y="827.52" width="16.41" height="16.06" fill="#def2fb"/>
<rect x="339.49" y="827.52" width="16.41" height="16.06" fill="#83b7df"/>
<rect x="355.89" y="827.52" width="16.41" height="16.06" fill="#7aafda"/>
<rect x="142.60" y="843.58" width="16.41" height="16.06" fill="#bfe2f4"/>
<rect x="159.01" y="843.58" width="16.41" height="16.06" fill="#abd4ee"/>
<rect x="175.41" y="843.58" width="16.41" height="16.06" fill="#d6eef9"/>
<rect x="191.82" y="843.58" width="16.41" height="16.06" fill="#c7e6f6"/>
<rect x="208.23" y="843.58" width="16.41" height="16.06" fill="#cfeaf8"/>
<rect x="224.64" y="843.58" width="16.41" height="16.06" fill="#c7e6f6"/>
<rect x="241.04" y="843.58" width="16.41" height="16.06" fill="#bfe2f4"/>
<rect x="257.45" y="843.58" width="16.41" height="16.06" fill="#d6eef9"/>
<rect x="273.86" y="843.58" width="16.41" height="16.06" fill="#def2fb"/>
<rect x="290.26" y="843.58" width="16.41" height="16.06" fill="#fdfbda"/>
<rect x="306.67" y="843.58" width="16.41" height="16.06" fill="#96c7e7"/>
<rect x="323.08" y="843.58" width="16.41" height="16.06" fill="#96c7e7"/>
<rect x="339.49" y="843.58" width="16.41" height="16.06" fill="#8cc0e4"/>
<rect x="355.89" y="843.58" width="16.41" height="16.06" fill="#abd4ee"/>
<rect x="142.60" y="859.64" width="16.41" height="16.06" fill="#f68845"/>
<rect x="159.01" y="859.64" width="16.41" height="16.06" fill="#c7e6f6"/>
<rect x="175.41" y="859.64" width="16.41" height="16.06" fill="#fdfbd0"/>
<rect x="191.82" y="859.64" width="16.41" height="16.06" fill="#fff6b2"/>
<rect x="208.23" y="859.64" width="16.41" height="16.06" fill="#fbfcee"/>
<rect x="224.64" y="859.64" width="16.41" height="16.06" fill="#fbaa56"/>
<rect x="241.04" y="859.64" width="16.41" height="16.06" fill="#fee894"/>
<rect x="257.45" y="859.64" width="16.41" height="16.06" fill="#fdfbda"/>
<rect x="273.86" y="859.64" width="16.41" height="16.06" fill="#669cd0"/>
<rect x="290.26" y="859.64" width="16.41" height="16.06" fill="#e6f6fd"/>
<rect x="306.67" y="859.64" width="16.41" height="16.06" fill="#eaf7fa"/>
<rect x="323.08" y="859.64" width="16.41" height="16.06" fill="#fdfbd0"/>
<rect x="339.49" y="859.64" width="16.41" height="16.06" fill="#a0ceea"/>
<rect x="355.89" y="859.64" width="16.41" height="16.06" fill="#eef8f7"/>
<rect x="142.60" y="875.71" width="16.41" height="16.06" fill="#eaf7fa"/>
<rect x="159.01" y="875.71" width="16.41" height="16.06" fill="#b5dbf1"/>
<rect x="175.41" y="875.71" width="16.41" height="16.06" fill="#e6f6fd"/>
<rect x="191.82" y="875.71" width="16.41" height="16.06" fill="#fdfbd0"/>
<rect x="208.23" y="875.71" width="16.41" height="16.06" fill="#7aafda"/>
<rect x="224.64" y="875.71" width="16.41" height="16.06" fill="#96c7e7"/>
<rect x="241.04" y="875.71" width="16.41" height="16.06" fill="#689ed1"/>
<rect x="257.45" y="875.71" width="16.41" height="16.06" fill="#96c7e7"/>
<rect x="273.86" y="875.71" width="16.41" height="16.06" fill="#669cd0"/>
<rect x="290.26" y="875.71" width="16.41" height="16.06" fill="#5a90c9"/>
<rect x="306.67" y="875.71" width="16.41" height="16.06" fill="#96c7e7"/>
<rect x="323.08" y="875.71" width="16.41" height="16.06" fill="#abd4ee"/>
<rect x="339.49" y="875.71" width="16.41" height="16.06" fill="#8cc0e4"/>
<rect x="355.89" y="875.71" width="16.41" height="16.06" fill="#96c7e7"/>
<rect x="142.60" y="891.77" width="16.41" height="16.06" fill="#eaf7fa"/>
<rect x="159.01" y="891.77" width="16.41" height="16.06" fill="#fbfcee"/>
<rect x="175.41" y="891.77" width="16.41" height="16.06" fill="#cfeaf8"/>
<rect x="191.82" y="891.77" width="16.41" height="16.06" fill="#fdfbda"/>
<rect x="208.23" y="891.77" width="16.41" height="16.06" fill="#d6eef9"/>
<rect x="224.64" y="891.77" width="16.41" height="16.06" fill="#f7fbf1"/>
<rect x="241.04" y="891.77" width="16.41" height="16.06" fill="#e3382c"/>
<rect x="257.45" y="891.77" width="16.41" height="16.06" fill="#5185c2"/>
<rect x="273.86" y="891.77" width="16.41" height="16.06" fill="#fff1a8"/>
<rect x="290.26" y="891.77" width="16.41" height="16.06" fill="#fdfbd0"/>
<rect x="306.67" y="891.77" width="16.41" height="16.06" fill="#b5dbf1"/>
<rect x="323.08" y="891.77" width="16.41" height="16.06" fill="#cfeaf8"/>
<rect x="339.49" y="891.77" width="16.41" height="16.06" fill="#568ac5"/>
<rect x="355.89" y="891.77" width="16.41" height="16.06" fill="#7aafda"/>
<rect x="142.60" y="907.84" width="16.41" height="16.06" fill="#fefac6"/>
<rect x="159.01" y="907.84" width="16.41" height="16.06" fill="#71a6d6"/>
<rect x="175.41" y="907.84" width="16.41" height="16.06" fill="#a0ceea"/>
<rect x="191.82" y="907.84" width="16.41" height="16.06" fill="#fbfcee"/>
<rect x="208.23" y="907.84" width="16.41" height="16.06" fill="#fdfbda"/>
<rect x="224.64" y="907.84" width="16.41" height="16.06" fill="#f26c3a"/>
<rect x="241.04" y="907.84" width="16.41" height="16.06" fill="#fdfbd0"/>
<rect x="257.45" y="907.84" width="16.41" height="16.06" fill="#689ed1"/>
<rect x="273.86" y="907.84" width="16.41" height="16.06" fill="#669cd0"/>
<rect x="290.26" y="907.84" width="16.41" height="16.06" fill="#fff6b2"/>
<rect x="306.67" y="907.84" width="16.41" height="16.06" fill="#c7e6f6"/>
<rect x="323.08" y="907.84" width="16.41" height="16.06" fill="#eef8f7"/>
<rect x="339.49" y="907.84" width="16.41" height="16.06" fill="#b5dbf1"/>
<rect x="355.89" y="907.84" width="16.41" height="16.06" fill="#b5dbf1"/>
<path d="M142.60,522.30V923.90M159.01,522.30V923.90M175.41,522.30V923.90M191.82,522.30V923.90M208.23,522.30V923.90M224.64,522.30V923.90M241.04,522.30V923.90M257.45,522.30V923.90M273.86,522.30V923.90M290.26,522.30V923.90M306.67,522.30V923.90M323.08,522.30V923.90M339.49,522.30V923.90M355.89,522.30V923.90M372.30,522.30V923.90M142.60,522.30H372.30M142.60,538.36H372.30M142.60,554.43H372.30M142.60,570.49H372.30M142.60,586.56H372.30M142.60,602.62H372.30M142.60,618.68H372.30M142.60,634.75H372.30M142.60,650.81H372.30M142.60,666.88H372.30M142.60,682.94H372.30M142.60,699.00H372.30M142.60,715.07H372.30M142.60,731.13H372.30M142.60,747.20H372.30M142.60,763.26H372.30M142.60,779.32H372.30M142.60,795.39H372.30M142.60,811.45H372.30M142.60,827.52H372.30M142.60,843.58H372.30M142.60,859.64H372.30M142.60,875.71H372.30M142.60,891.77H372.30M142.60,907.84H372.30M142.60,923.90H372.30" stroke="#111" stroke-width="1.5" fill="none"/>
<g transform="translate(137.7,534.43) scale(0.977,1)"><text class="k" x="0" y="0" font-size="11.3" text-anchor="end" fill="#1a1a1a">1 (10.32%)</text></g>
<g transform="translate(137.7,550.50) scale(0.977,1)"><text class="k" x="0" y="0" font-size="11.3" text-anchor="end" fill="#1a1a1a">2 (9.99%)</text></g>
<g transform="translate(137.7,566.56) scale(0.977,1)"><text class="k" x="0" y="0" font-size="11.3" text-anchor="end" fill="#1a1a1a">3 (9.83%)</text></g>
<g transform="translate(137.7,582.62) scale(0.977,1)"><text class="k" x="0" y="0" font-size="11.3" text-anchor="end" fill="#1a1a1a">4 (9.59%)</text></g>
<g transform="translate(137.7,598.69) scale(0.977,1)"><text class="k" x="0" y="0" font-size="11.3" text-anchor="end" fill="#1a1a1a">5 (7.80%)</text></g>
<g transform="translate(137.7,614.75) scale(0.977,1)"><text class="k" x="0" y="0" font-size="11.3" text-anchor="end" fill="#1a1a1a">6 (6.40%)</text></g>
<g transform="translate(137.7,630.82) scale(0.977,1)"><text class="k" x="0" y="0" font-size="11.3" text-anchor="end" fill="#1a1a1a">7 (6.25%)</text></g>
<g transform="translate(137.7,646.88) scale(0.977,1)"><text class="k" x="0" y="0" font-size="11.3" text-anchor="end" fill="#1a1a1a">8 (5.42%)</text></g>
<g transform="translate(137.7,662.94) scale(0.977,1)"><text class="k" x="0" y="0" font-size="11.3" text-anchor="end" fill="#1a1a1a">9 (5.04%)</text></g>
<g transform="translate(137.7,679.01) scale(0.977,1)"><text class="k" x="0" y="0" font-size="11.3" text-anchor="end" fill="#1a1a1a">10 (3.70%)</text></g>
<g transform="translate(137.7,695.07) scale(0.977,1)"><text class="k" x="0" y="0" font-size="11.3" text-anchor="end" fill="#1a1a1a">11 (3.67%)</text></g>
<g transform="translate(137.7,711.14) scale(0.977,1)"><text class="k" x="0" y="0" font-size="11.3" text-anchor="end" fill="#1a1a1a">12 (3.39%)</text></g>
<g transform="translate(137.7,727.20) scale(0.977,1)"><text class="k" x="0" y="0" font-size="11.3" text-anchor="end" fill="#1a1a1a">13 (3.20%)</text></g>
<g transform="translate(137.7,743.26) scale(0.977,1)"><text class="k" x="0" y="0" font-size="11.3" text-anchor="end" fill="#1a1a1a">14 (2.93%)</text></g>
<g transform="translate(137.7,759.33) scale(0.977,1)"><text class="k" x="0" y="0" font-size="11.3" text-anchor="end" fill="#1a1a1a">15 (2.93%)</text></g>
<g transform="translate(137.7,775.39) scale(0.977,1)"><text class="k" x="0" y="0" font-size="11.3" text-anchor="end" fill="#1a1a1a">16 (2.09%)</text></g>
<g transform="translate(137.7,791.46) scale(0.977,1)"><text class="k" x="0" y="0" font-size="11.3" text-anchor="end" fill="#1a1a1a">17 (1.69%)</text></g>
<g transform="translate(137.7,807.52) scale(0.977,1)"><text class="k" x="0" y="0" font-size="11.3" text-anchor="end" fill="#1a1a1a">18 (1.65%)</text></g>
<g transform="translate(137.7,823.58) scale(0.977,1)"><text class="k" x="0" y="0" font-size="11.3" text-anchor="end" fill="#1a1a1a">19 (1.23%)</text></g>
<g transform="translate(137.7,839.65) scale(0.977,1)"><text class="k" x="0" y="0" font-size="11.3" text-anchor="end" fill="#1a1a1a">20 (1.17%)</text></g>
<g transform="translate(137.7,855.71) scale(0.977,1)"><text class="k" x="0" y="0" font-size="11.3" text-anchor="end" fill="#1a1a1a">21 (0.93%)</text></g>
<g transform="translate(137.7,871.78) scale(0.977,1)"><text class="k" x="0" y="0" font-size="11.3" text-anchor="end" fill="#1a1a1a">22 (0.27%)</text></g>
<g transform="translate(137.7,887.84) scale(0.977,1)"><text class="k" x="0" y="0" font-size="11.3" text-anchor="end" fill="#1a1a1a">23 (0.26%)</text></g>
<g transform="translate(137.7,903.90) scale(0.977,1)"><text class="k" x="0" y="0" font-size="11.3" text-anchor="end" fill="#1a1a1a">24 (0.13%)</text></g>
<g transform="translate(137.7,919.97) scale(0.977,1)"><text class="k" x="0" y="0" font-size="11.3" text-anchor="end" fill="#1a1a1a">25 (0.13%)</text></g>
<text transform="translate(153.80,932.40) rotate(-45)" class="k" x="0" y="0" font-size="12" text-anchor="end" fill="#1a1a1a">CD8</text>
<text transform="translate(170.21,932.40) rotate(-45)" class="k" x="0" y="0" font-size="12" text-anchor="end" fill="#1a1a1a">2B4</text>
<text transform="translate(186.62,932.40) rotate(-45)" class="k" x="0" y="0" font-size="12" text-anchor="end" fill="#1a1a1a">LAG3</text>
<text transform="translate(203.02,932.40) rotate(-45)" class="k" x="0" y="0" font-size="12" text-anchor="end" fill="#1a1a1a">PD1</text>
<text transform="translate(219.43,932.40) rotate(-45)" class="k" x="0" y="0" font-size="12" text-anchor="end" fill="#1a1a1a">CCR7</text>
<text transform="translate(235.84,932.40) rotate(-45)" class="k" x="0" y="0" font-size="12" text-anchor="end" fill="#1a1a1a">CD3</text>
<text transform="translate(252.25,932.40) rotate(-45)" class="k" x="0" y="0" font-size="12" text-anchor="end" fill="#1a1a1a">CD45RO</text>
<text transform="translate(268.65,932.40) rotate(-45)" class="k" x="0" y="0" font-size="12" text-anchor="end" fill="#1a1a1a">CD160</text>
<text transform="translate(285.06,932.40) rotate(-45)" class="k" x="0" y="0" font-size="12" text-anchor="end" fill="#1a1a1a">PDL1</text>
<text transform="translate(301.47,932.40) rotate(-45)" class="k" x="0" y="0" font-size="12" text-anchor="end" fill="#1a1a1a">CD4</text>
<text transform="translate(317.88,932.40) rotate(-45)" class="k" x="0" y="0" font-size="12" text-anchor="end" fill="#1a1a1a">TIGIT</text>
<text transform="translate(334.28,932.40) rotate(-45)" class="k" x="0" y="0" font-size="12" text-anchor="end" fill="#1a1a1a">TIM3</text>
<text transform="translate(350.69,932.40) rotate(-45)" class="k" x="0" y="0" font-size="12" text-anchor="end" fill="#1a1a1a">CD19</text>
<text transform="translate(367.10,932.40) rotate(-45)" class="k" x="0" y="0" font-size="12" text-anchor="end" fill="#1a1a1a">CTLA4</text>
<defs><linearGradient id="cb" x1="0" y1="0" x2="0" y2="1"><stop offset="0.0000" stop-color="#e0302a"/><stop offset="0.1505" stop-color="#f26c3a"/><stop offset="0.2314" stop-color="#f99a4c"/><stop offset="0.3123" stop-color="#fdc266"/><stop offset="0.3932" stop-color="#fee48a"/><stop offset="0.4741" stop-color="#fffabc"/><stop offset="0.5550" stop-color="#fbfcee"/><stop offset="0.6359" stop-color="#e6f6fd"/><stop offset="0.7168" stop-color="#bfe2f4"/><stop offset="0.7977" stop-color="#8cc0e4"/><stop offset="0.8786" stop-color="#5f95cc"/><stop offset="1.0000" stop-color="#3d6cb3"/></linearGradient></defs>
<rect x="389.2" y="547.6" width="8.6" height="141" fill="url(#cb)" stroke="#333" stroke-width="0.8"/>
<text class="k" x="382.7" y="561.2" font-size="11.5" text-anchor="middle" fill="#1a1a1a">5</text>
<text class="k" x="382.7" y="584.05" font-size="11.5" text-anchor="middle" fill="#1a1a1a">4</text>
<text class="k" x="382.7" y="606.9" font-size="11.5" text-anchor="middle" fill="#1a1a1a">3</text>
<text class="k" x="382.7" y="629.75" font-size="11.5" text-anchor="middle" fill="#1a1a1a">2</text>
<text class="k" x="382.7" y="652.6" font-size="11.5" text-anchor="middle" fill="#1a1a1a">1</text>
<text class="k" x="382.7" y="675.45" font-size="11.5" text-anchor="middle" fill="#1a1a1a">0</text>
<text class="k" x="393.6" y="543.4" font-size="11" text-anchor="middle" textLength="22.6" lengthAdjust="spacingAndGlyphs" fill="#1a1a1a">High</text>
<text class="k" x="393.6" y="699.4" font-size="11" text-anchor="middle" fill="#1a1a1a">Low</text>
<text transform="translate(420.9,618.4) rotate(90)" class="k" x="0" y="0" font-size="12" text-anchor="middle" textLength="129.2" lengthAdjust="spacingAndGlyphs" fill="#1a1a1a">Mean arcsinh-transformed</text>
<text transform="translate(408.1,618.9) rotate(90)" class="k" x="0" y="0" font-size="12" text-anchor="middle" textLength="99.7" lengthAdjust="spacingAndGlyphs" fill="#1a1a1a">fluorescent intensity</text>
</svg>
<div style="position:absolute;left:0;top:0;width:520px;height:975px;box-sizing:border-box;border:1px solid #000;pointer-events:none"></div>
<div style="position:absolute;left:1px;top:1px;width:518px;height:973px;box-sizing:border-box;border:1px solid #777;pointer-events:none"></div>
</body></html>
